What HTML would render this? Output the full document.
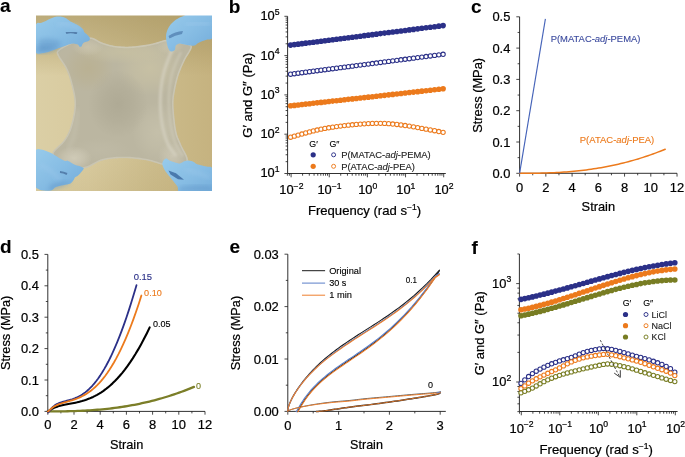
<!DOCTYPE html>
<html><head><meta charset="utf-8"><style>
html,body{margin:0;padding:0;background:#fff;width:685px;height:457px;overflow:hidden;}
svg{display:block;font-family:"Liberation Sans", sans-serif;will-change:transform;}
</style></head><body>
<svg width="685" height="457" viewBox="0 0 685 457">
<rect width="685" height="457" fill="#fff"/>
<defs>
<clipPath id="pc"><rect x="36" y="15.5" width="176" height="175.5"/></clipPath>
<filter id="blur1" x="-5%" y="-5%" width="110%" height="110%"><feGaussianBlur stdDeviation="0.55"/></filter>
<filter id="blur3" x="-20%" y="-20%" width="140%" height="140%"><feGaussianBlur stdDeviation="2.2"/></filter>
<filter id="blur2" x="-20%" y="-20%" width="140%" height="140%"><feGaussianBlur stdDeviation="1.3"/></filter>
<linearGradient id="bgG" x1="0" y1="0" x2="1" y2="0"><stop offset="0" stop-color="#dbcfa6"/><stop offset="0.3" stop-color="#d8ca9e"/><stop offset="0.65" stop-color="#ccbc8c"/><stop offset="1" stop-color="#c5b27f"/></linearGradient>
<linearGradient id="bgV" x1="0" y1="0" x2="0" y2="1"><stop offset="0" stop-color="#a08c55" stop-opacity="0.55"/><stop offset="0.2" stop-color="#a08c55" stop-opacity="0.3"/><stop offset="0.35" stop-color="#a89358" stop-opacity="0.0"/><stop offset="0.8" stop-color="#a89358" stop-opacity="0"/><stop offset="1" stop-color="#a89358" stop-opacity="0.12"/></linearGradient>
<radialGradient id="filmG" cx="0.5" cy="0.52" r="0.62"><stop offset="0" stop-color="#aca792"/><stop offset="0.55" stop-color="#b2ad97"/><stop offset="0.85" stop-color="#bdb8a2"/><stop offset="1" stop-color="#cbc7b4"/></radialGradient>
<linearGradient id="gloveG" x1="0" y1="0" x2="1" y2="1"><stop offset="0" stop-color="#98cbeb"/><stop offset="0.5" stop-color="#87bde4"/><stop offset="1" stop-color="#72abd9"/></linearGradient>
</defs>
<g clip-path="url(#pc)"><g filter="url(#blur1)">
<rect x="33" y="12.5" width="182" height="181.5" fill="url(#bgG)"/>
<rect x="33" y="12.5" width="182" height="181.5" fill="url(#bgV)"/>
<clipPath id="fc"><path d="M58,50 L59.5,48.75 L61.52,47.36 L63.92,45.93 L66.57,44.5 L69.31,43.17 L72,42 L74.77,40.9 L77.76,39.8 L80.85,38.78 L83.91,37.95 L86.84,37.39 L89.5,37.2 L91.89,37.5 L94.1,38.24 L96.16,39.26 L98.13,40.39 L100.03,41.46 L101.9,42.3 L103.7,42.94 L105.37,43.52 L106.99,44.04 L108.59,44.5 L110.24,44.92 L112,45.3 L113.88,45.63 L115.83,45.92 L117.83,46.16 L119.85,46.36 L121.85,46.5 L123.8,46.6 L125.71,46.64 L127.6,46.63 L129.47,46.57 L131.33,46.47 L133.17,46.34 L135,46.2 L136.82,46.03 L138.62,45.84 L140.41,45.61 L142.18,45.36 L143.95,45.09 L145.7,44.8 L147.44,44.49 L149.17,44.15 L150.89,43.79 L152.6,43.41 L154.3,43.01 L156,42.6 L157.65,42.11 L159.24,41.53 L160.82,40.93 L162.46,40.39 L164.2,39.98 L166.1,39.8 L168.22,39.86 L170.52,40.1 L172.93,40.47 L175.37,40.95 L177.75,41.47 L180,42 L182.33,42.44 L184.84,42.82 L187.31,43.24 L189.48,43.84 L191.12,44.72 L192,46 L191.92,47.79 L191.03,50.02 L189.62,52.54 L187.96,55.19 L186.32,57.83 L185,60.3 L183.93,62.61 L182.88,64.87 L181.86,67.11 L180.88,69.38 L179.95,71.7 L179.1,74.1 L178.31,76.61 L177.57,79.21 L176.88,81.86 L176.26,84.53 L175.69,87.19 L175.2,89.8 L174.75,92.24 L174.34,94.52 L173.99,96.79 L173.74,99.19 L173.6,101.88 L173.6,105 L173.76,108.79 L174.07,113.17 L174.49,117.84 L175.01,122.49 L175.58,126.81 L176.2,130.5 L176.86,133.46 L177.59,135.9 L178.38,138.01 L179.23,139.99 L180.14,142.03 L181.1,144.3 L182.31,146.91 L183.8,149.71 L185.36,152.58 L186.73,155.34 L187.69,157.86 L188,160 L187.63,161.77 L186.77,163.31 L185.49,164.61 L183.89,165.66 L182.03,166.45 L180,167 L177.64,167.21 L174.85,167.07 L171.81,166.67 L168.7,166.13 L165.71,165.54 L163,165 L160.59,164.45 L158.33,163.8 L156.19,163.1 L154.11,162.4 L152.06,161.75 L150,161.2 L147.94,160.75 L145.93,160.36 L143.94,160.02 L141.96,159.72 L139.99,159.45 L138,159.2 L135.99,158.97 L133.97,158.77 L131.95,158.61 L129.94,158.47 L127.95,158.37 L126,158.3 L124.12,158.26 L122.3,158.23 L120.51,158.24 L118.7,158.3 L116.81,158.41 L114.8,158.6 L112.69,158.82 L110.51,159.06 L108.26,159.35 L105.93,159.74 L103.52,160.28 L101,161 L98.36,162.09 L95.61,163.57 L92.76,165.18 L89.86,166.7 L86.93,167.89 L84,168.5 L81.01,168.51 L77.93,168.09 L74.81,167.34 L71.74,166.35 L68.78,165.21 L66,164 L63.14,162.69 L60.09,161.21 L57.15,159.57 L54.62,157.8 L52.81,155.94 L52,154 L52.51,151.94 L54.14,149.74 L56.49,147.44 L59.13,145.08 L61.64,142.72 L63.6,140.4 L65.06,138.21 L66.36,136.14 L67.52,134.06 L68.59,131.86 L69.57,129.41 L70.5,126.6 L71.43,123.34 L72.34,119.7 L73.18,115.81 L73.87,111.81 L74.33,107.83 L74.5,104 L74.31,100.2 L73.8,96.32 L73.06,92.45 L72.2,88.7 L71.32,85.19 L70.5,82 L69.76,79.21 L69.01,76.73 L68.24,74.49 L67.41,72.38 L66.51,70.31 L65.5,68.2 L64.27,66 L62.81,63.79 L61.27,61.61 L59.8,59.55 L58.56,57.66 L57.7,56 L57.12,54.66 L56.69,53.61 L56.49,52.74 L56.59,51.92 L57.06,51.04 Z"/></clipPath>
<g clip-path="url(#fc)">
<path d="M58,50 L59.5,48.75 L61.52,47.36 L63.92,45.93 L66.57,44.5 L69.31,43.17 L72,42 L74.77,40.9 L77.76,39.8 L80.85,38.78 L83.91,37.95 L86.84,37.39 L89.5,37.2 L91.89,37.5 L94.1,38.24 L96.16,39.26 L98.13,40.39 L100.03,41.46 L101.9,42.3 L103.7,42.94 L105.37,43.52 L106.99,44.04 L108.59,44.5 L110.24,44.92 L112,45.3 L113.88,45.63 L115.83,45.92 L117.83,46.16 L119.85,46.36 L121.85,46.5 L123.8,46.6 L125.71,46.64 L127.6,46.63 L129.47,46.57 L131.33,46.47 L133.17,46.34 L135,46.2 L136.82,46.03 L138.62,45.84 L140.41,45.61 L142.18,45.36 L143.95,45.09 L145.7,44.8 L147.44,44.49 L149.17,44.15 L150.89,43.79 L152.6,43.41 L154.3,43.01 L156,42.6 L157.65,42.11 L159.24,41.53 L160.82,40.93 L162.46,40.39 L164.2,39.98 L166.1,39.8 L168.22,39.86 L170.52,40.1 L172.93,40.47 L175.37,40.95 L177.75,41.47 L180,42 L182.33,42.44 L184.84,42.82 L187.31,43.24 L189.48,43.84 L191.12,44.72 L192,46 L191.92,47.79 L191.03,50.02 L189.62,52.54 L187.96,55.19 L186.32,57.83 L185,60.3 L183.93,62.61 L182.88,64.87 L181.86,67.11 L180.88,69.38 L179.95,71.7 L179.1,74.1 L178.31,76.61 L177.57,79.21 L176.88,81.86 L176.26,84.53 L175.69,87.19 L175.2,89.8 L174.75,92.24 L174.34,94.52 L173.99,96.79 L173.74,99.19 L173.6,101.88 L173.6,105 L173.76,108.79 L174.07,113.17 L174.49,117.84 L175.01,122.49 L175.58,126.81 L176.2,130.5 L176.86,133.46 L177.59,135.9 L178.38,138.01 L179.23,139.99 L180.14,142.03 L181.1,144.3 L182.31,146.91 L183.8,149.71 L185.36,152.58 L186.73,155.34 L187.69,157.86 L188,160 L187.63,161.77 L186.77,163.31 L185.49,164.61 L183.89,165.66 L182.03,166.45 L180,167 L177.64,167.21 L174.85,167.07 L171.81,166.67 L168.7,166.13 L165.71,165.54 L163,165 L160.59,164.45 L158.33,163.8 L156.19,163.1 L154.11,162.4 L152.06,161.75 L150,161.2 L147.94,160.75 L145.93,160.36 L143.94,160.02 L141.96,159.72 L139.99,159.45 L138,159.2 L135.99,158.97 L133.97,158.77 L131.95,158.61 L129.94,158.47 L127.95,158.37 L126,158.3 L124.12,158.26 L122.3,158.23 L120.51,158.24 L118.7,158.3 L116.81,158.41 L114.8,158.6 L112.69,158.82 L110.51,159.06 L108.26,159.35 L105.93,159.74 L103.52,160.28 L101,161 L98.36,162.09 L95.61,163.57 L92.76,165.18 L89.86,166.7 L86.93,167.89 L84,168.5 L81.01,168.51 L77.93,168.09 L74.81,167.34 L71.74,166.35 L68.78,165.21 L66,164 L63.14,162.69 L60.09,161.21 L57.15,159.57 L54.62,157.8 L52.81,155.94 L52,154 L52.51,151.94 L54.14,149.74 L56.49,147.44 L59.13,145.08 L61.64,142.72 L63.6,140.4 L65.06,138.21 L66.36,136.14 L67.52,134.06 L68.59,131.86 L69.57,129.41 L70.5,126.6 L71.43,123.34 L72.34,119.7 L73.18,115.81 L73.87,111.81 L74.33,107.83 L74.5,104 L74.31,100.2 L73.8,96.32 L73.06,92.45 L72.2,88.7 L71.32,85.19 L70.5,82 L69.76,79.21 L69.01,76.73 L68.24,74.49 L67.41,72.38 L66.51,70.31 L65.5,68.2 L64.27,66 L62.81,63.79 L61.27,61.61 L59.8,59.55 L58.56,57.66 L57.7,56 L57.12,54.66 L56.69,53.61 L56.49,52.74 L56.59,51.92 L57.06,51.04 Z" fill="#bbb6a1"/>
<radialGradient id="fr0"><stop offset="0" stop-color="#c8c1a4" stop-opacity="0.9"/><stop offset="0.5" stop-color="#c8c1a4" stop-opacity="0.54"/><stop offset="1" stop-color="#c8c1a4" stop-opacity="0"/></radialGradient>
<ellipse cx="150" cy="68" rx="34" ry="28" fill="url(#fr0)"/>
<radialGradient id="fr1"><stop offset="0" stop-color="#b9ae8a" stop-opacity="0.6"/><stop offset="0.5" stop-color="#b9ae8a" stop-opacity="0.36"/><stop offset="1" stop-color="#b9ae8a" stop-opacity="0"/></radialGradient>
<ellipse cx="88" cy="68" rx="26" ry="24" fill="url(#fr1)"/>
<radialGradient id="fr2"><stop offset="0" stop-color="#c6c1ab" stop-opacity="0.85"/><stop offset="0.5" stop-color="#c6c1ab" stop-opacity="0.51"/><stop offset="1" stop-color="#c6c1ab" stop-opacity="0"/></radialGradient>
<ellipse cx="158" cy="132" rx="26" ry="30" fill="url(#fr2)"/>
<radialGradient id="fr3"><stop offset="0" stop-color="#ada893" stop-opacity="0.85"/><stop offset="0.5" stop-color="#ada893" stop-opacity="0.51"/><stop offset="1" stop-color="#ada893" stop-opacity="0"/></radialGradient>
<ellipse cx="118" cy="104" rx="30" ry="34" fill="url(#fr3)"/>
<radialGradient id="fr4"><stop offset="0" stop-color="#c9c2a2" stop-opacity="0.7"/><stop offset="0.5" stop-color="#c9c2a2" stop-opacity="0.42"/><stop offset="1" stop-color="#c9c2a2" stop-opacity="0"/></radialGradient>
<ellipse cx="124" cy="52" rx="46" ry="12" fill="url(#fr4)"/>
<radialGradient id="fr5"><stop offset="0" stop-color="#c2bda9" stop-opacity="0.5"/><stop offset="0.5" stop-color="#c2bda9" stop-opacity="0.3"/><stop offset="1" stop-color="#c2bda9" stop-opacity="0"/></radialGradient>
<ellipse cx="100" cy="150" rx="30" ry="12" fill="url(#fr5)"/>
<radialGradient id="fr6"><stop offset="0" stop-color="#d4cfbc" stop-opacity="0.8"/><stop offset="0.5" stop-color="#d4cfbc" stop-opacity="0.48"/><stop offset="1" stop-color="#d4cfbc" stop-opacity="0"/></radialGradient>
<ellipse cx="74" cy="158" rx="18" ry="12" fill="url(#fr6)"/>
<radialGradient id="fr7"><stop offset="0" stop-color="#d0cbb8" stop-opacity="0.7"/><stop offset="0.5" stop-color="#d0cbb8" stop-opacity="0.42"/><stop offset="1" stop-color="#d0cbb8" stop-opacity="0"/></radialGradient>
<ellipse cx="172" cy="156" rx="14" ry="14" fill="url(#fr7)"/>
<radialGradient id="fr8"><stop offset="0" stop-color="#cdc7b0" stop-opacity="0.7"/><stop offset="0.5" stop-color="#cdc7b0" stop-opacity="0.42"/><stop offset="1" stop-color="#cdc7b0" stop-opacity="0"/></radialGradient>
<ellipse cx="88" cy="47" rx="16" ry="9" fill="url(#fr8)"/>
<radialGradient id="fr9"><stop offset="0" stop-color="#cdc7ae" stop-opacity="0.7"/><stop offset="0.5" stop-color="#cdc7ae" stop-opacity="0.42"/><stop offset="1" stop-color="#cdc7ae" stop-opacity="0"/></radialGradient>
<ellipse cx="170" cy="46" rx="14" ry="9" fill="url(#fr9)"/>
</g>
<g clip-path="url(#fc)"><path d="M58,50 L59.5,48.75 L61.52,47.36 L63.92,45.93 L66.57,44.5 L69.31,43.17 L72,42 L74.77,40.9 L77.76,39.8 L80.85,38.78 L83.91,37.95 L86.84,37.39 L89.5,37.2 L91.89,37.5 L94.1,38.24 L96.16,39.26 L98.13,40.39 L100.03,41.46 L101.9,42.3 L103.7,42.94 L105.37,43.52 L106.99,44.04 L108.59,44.5 L110.24,44.92 L112,45.3 L113.88,45.63 L115.83,45.92 L117.83,46.16 L119.85,46.36 L121.85,46.5 L123.8,46.6 L125.71,46.64 L127.6,46.63 L129.47,46.57 L131.33,46.47 L133.17,46.34 L135,46.2 L136.82,46.03 L138.62,45.84 L140.41,45.61 L142.18,45.36 L143.95,45.09 L145.7,44.8 L147.44,44.49 L149.17,44.15 L150.89,43.79 L152.6,43.41 L154.3,43.01 L156,42.6 L157.65,42.11 L159.24,41.53 L160.82,40.93 L162.46,40.39 L164.2,39.98 L166.1,39.8 L168.22,39.86 L170.52,40.1 L172.93,40.47 L175.37,40.95 L177.75,41.47 L180,42 L182.33,42.44 L184.84,42.82 L187.31,43.24 L189.48,43.84 L191.12,44.72 L192,46 L191.92,47.79 L191.03,50.02 L189.62,52.54 L187.96,55.19 L186.32,57.83 L185,60.3 L183.93,62.61 L182.88,64.87 L181.86,67.11 L180.88,69.38 L179.95,71.7 L179.1,74.1 L178.31,76.61 L177.57,79.21 L176.88,81.86 L176.26,84.53 L175.69,87.19 L175.2,89.8 L174.75,92.24 L174.34,94.52 L173.99,96.79 L173.74,99.19 L173.6,101.88 L173.6,105 L173.76,108.79 L174.07,113.17 L174.49,117.84 L175.01,122.49 L175.58,126.81 L176.2,130.5 L176.86,133.46 L177.59,135.9 L178.38,138.01 L179.23,139.99 L180.14,142.03 L181.1,144.3 L182.31,146.91 L183.8,149.71 L185.36,152.58 L186.73,155.34 L187.69,157.86 L188,160 L187.63,161.77 L186.77,163.31 L185.49,164.61 L183.89,165.66 L182.03,166.45 L180,167 L177.64,167.21 L174.85,167.07 L171.81,166.67 L168.7,166.13 L165.71,165.54 L163,165 L160.59,164.45 L158.33,163.8 L156.19,163.1 L154.11,162.4 L152.06,161.75 L150,161.2 L147.94,160.75 L145.93,160.36 L143.94,160.02 L141.96,159.72 L139.99,159.45 L138,159.2 L135.99,158.97 L133.97,158.77 L131.95,158.61 L129.94,158.47 L127.95,158.37 L126,158.3 L124.12,158.26 L122.3,158.23 L120.51,158.24 L118.7,158.3 L116.81,158.41 L114.8,158.6 L112.69,158.82 L110.51,159.06 L108.26,159.35 L105.93,159.74 L103.52,160.28 L101,161 L98.36,162.09 L95.61,163.57 L92.76,165.18 L89.86,166.7 L86.93,167.89 L84,168.5 L81.01,168.51 L77.93,168.09 L74.81,167.34 L71.74,166.35 L68.78,165.21 L66,164 L63.14,162.69 L60.09,161.21 L57.15,159.57 L54.62,157.8 L52.81,155.94 L52,154 L52.51,151.94 L54.14,149.74 L56.49,147.44 L59.13,145.08 L61.64,142.72 L63.6,140.4 L65.06,138.21 L66.36,136.14 L67.52,134.06 L68.59,131.86 L69.57,129.41 L70.5,126.6 L71.43,123.34 L72.34,119.7 L73.18,115.81 L73.87,111.81 L74.33,107.83 L74.5,104 L74.31,100.2 L73.8,96.32 L73.06,92.45 L72.2,88.7 L71.32,85.19 L70.5,82 L69.76,79.21 L69.01,76.73 L68.24,74.49 L67.41,72.38 L66.51,70.31 L65.5,68.2 L64.27,66 L62.81,63.79 L61.27,61.61 L59.8,59.55 L58.56,57.66 L57.7,56 L57.12,54.66 L56.69,53.61 L56.49,52.74 L56.59,51.92 L57.06,51.04 Z" fill="none" stroke="#d6d2c1" stroke-width="3.2" stroke-opacity="0.55"/></g>
<path d="M172,50 L171.08,52.38 L169.76,55.67 L168.22,59.56 L166.63,63.78 L165.17,68.02 L164,72 L163.1,75.75 L162.33,79.52 L161.69,83.31 L161.17,87.15 L160.77,91.04 L160.5,95 L160.35,99.09 L160.33,103.3 L160.44,107.56 L160.67,111.81 L161.02,115.98 L161.5,120 L162.12,123.93 L162.87,127.85 L163.75,131.69 L164.74,135.37 L165.83,138.83 L167,142 L168.4,144.96 L170.07,147.78 L171.84,150.38 L173.54,152.67 L174.98,154.57 L176,156" fill="none" stroke="#d6d2c2" stroke-opacity="0.7" stroke-width="3.2" filter="url(#blur2)"/>
<path d="M181,52 L180.02,54.14 L178.61,57.07 L176.97,60.56 L175.28,64.37 L173.73,68.26 L172.5,72 L171.58,75.64 L170.8,79.37 L170.16,83.19 L169.65,87.07 L169.27,91.02 L169,95 L168.86,99.09 L168.85,103.3 L168.97,107.56 L169.2,111.81 L169.55,115.98 L170,120 L170.57,123.93 L171.26,127.85 L172.06,131.69 L172.96,135.37 L173.95,138.83 L175,142 L176.25,144.96 L177.74,147.78 L179.31,150.38 L180.81,152.67 L182.09,154.57 L183,156" fill="none" stroke="#d3cfbe" stroke-opacity="0.5" stroke-width="2.4" filter="url(#blur2)"/>
<path d="M68,150 L68.68,148.48 L69.63,146.48 L70.75,144.06 L71.93,141.3 L73.05,138.25 L74,135 L74.83,131.12 L75.63,126.48 L76.38,121.56 L77.04,116.85 L77.59,112.84 L78,110" fill="none" stroke="#d0ccba" stroke-opacity="0.5" stroke-width="2.4" filter="url(#blur3)"/>
<path d="M36,24.4 L37.09,23.05 L38.33,22.8 L39.62,22.98 L40.9,22.9 L42.15,22.45 L43.4,21.96 L44.65,21.45 L45.9,20.9 L47.13,20.29 L48.36,19.62 L49.58,18.97 L50.8,18.4 L52.02,17.91 L53.25,17.46 L54.48,17.09 L55.7,16.8 L56.92,16.59 L58.14,16.46 L59.37,16.42 L60.6,16.5 L61.85,16.7 L63.1,17.02 L64.35,17.45 L65.6,18 L66.83,18.74 L68.06,19.64 L69.28,20.57 L70.5,21.4 L71.72,22.08 L72.95,22.68 L74.18,23.27 L75.4,23.9 L76.67,24.59 L77.97,25.32 L79.21,26.06 L80.3,26.8 L81.23,27.56 L82.04,28.33 L82.74,29.09 L83.3,29.8 L83.65,30.44 L83.81,31.03 L83.96,31.61 L84.3,32.2 L84.9,32.81 L85.66,33.41 L86.46,34.04 L87.2,34.7 L87.92,35.42 L88.66,36.18 L89.3,36.95 L89.7,37.7 L89.87,38.46 L89.85,39.24 L89.63,39.98 L89.2,40.6 L88.42,41.09 L87.34,41.47 L86.22,41.79 L85.3,42.1 L84.64,42.37 L84.12,42.6 L83.69,42.83 L83.3,43.1 L82.98,43.43 L82.74,43.79 L82.53,44.19 L82.3,44.6 L82.07,45.09 L81.86,45.64 L81.62,46.15 L81.3,46.5 L80.86,46.68 L80.32,46.74 L79.78,46.68 L79.3,46.5 L78.98,46.14 L78.76,45.61 L78.45,45.06 L77.9,44.6 L77,44.24 L75.87,43.92 L74.63,43.69 L73.4,43.6 L72.27,43.66 L71.16,43.86 L69.95,44.17 L68.5,44.6 L66.78,45.18 L64.86,45.89 L62.78,46.69 L60.6,47.5 L58.22,48.37 L55.64,49.31 L53.09,50.22 L50.8,51 L48.89,51.63 L47.23,52.17 L45.63,52.6 L43.9,52.9 L41.88,53.34 L39.71,53.83 L37.65,53.85 L36,52.9 L34.76,50.65 L33.82,47.42 L33.21,43.72 L33,40 L33.28,35.96 L34.01,31.49 L34.98,27.37 Z" fill="url(#gloveG)"/>
<path d="M183,16.2 L180.88,17.07 L179.14,17.85 L177.61,18.66 L176.1,19.6 L174.58,20.72 L173.13,21.94 L171.79,23.25 L170.6,24.6 L169.55,26.01 L168.63,27.49 L167.85,29 L167.2,30.5 L166.7,31.97 L166.33,33.43 L166.1,34.92 L166,36.5 L166.06,38.25 L166.28,40.12 L166.58,41.95 L166.9,43.6 L167.21,45.02 L167.56,46.31 L167.95,47.46 L168.4,48.5 L168.9,49.49 L169.44,50.4 L170.07,51.11 L170.8,51.5 L171.76,51.51 L172.89,51.22 L173.97,50.69 L174.8,50 L175.19,49.03 L175.31,47.77 L175.42,46.51 L175.8,45.5 L176.55,44.77 L177.51,44.21 L178.59,43.81 L179.7,43.6 L180.85,43.65 L182.08,43.92 L183.34,44.29 L184.6,44.6 L185.85,44.85 L187.1,45.11 L188.35,45.34 L189.6,45.5 L190.88,45.61 L192.18,45.67 L193.42,45.65 L194.5,45.5 L195.34,45.16 L196.01,44.67 L196.64,44.13 L197.4,43.6 L198.28,43.11 L199.21,42.61 L200.24,42.1 L201.4,41.6 L202.77,41.08 L204.31,40.54 L205.86,40.03 L207.3,39.6 L208.58,39.46 L209.77,39.51 L210.9,39.36 L212,38.6 L213.19,37.2 L214.42,35.36 L215.44,32.99 L216,30 L216.32,25.74 L216.44,20.46 L215.84,15.45 L214,12 L210.28,10.64 L205.12,10.61 L199.66,11.28 L195,12 L191.39,12.77 L188.24,13.89 L185.48,15.11 Z" fill="url(#gloveG)"/>
<path d="M36,150 L37.11,149.16 L38.37,149.03 L39.7,149.26 L41,149.5 L42.27,149.72 L43.55,150.09 L44.83,150.54 L46.1,151 L47.36,151.46 L48.61,151.96 L49.85,152.5 L51.1,153.1 L52.35,153.79 L53.59,154.54 L54.84,155.33 L56.1,156.1 L57.39,156.87 L58.71,157.66 L60,158.42 L61.2,159.1 L62.32,159.73 L63.39,160.32 L64.37,160.8 L65.2,161.1 L65.82,161.1 L66.26,160.88 L66.68,160.64 L67.2,160.6 L67.85,160.81 L68.57,161.16 L69.35,161.61 L70.2,162.1 L71.13,162.68 L72.12,163.35 L73.19,164.02 L74.3,164.6 L75.5,165.04 L76.79,165.39 L78.08,165.72 L79.3,166.1 L80.56,166.52 L81.85,166.96 L82.94,167.44 L83.6,168 L83.72,168.63 L83.44,169.32 L82.89,170.1 L82.2,171 L81.28,172.12 L80.09,173.43 L78.86,174.69 L77.8,175.7 L76.93,176.34 L76.14,176.76 L75.46,177.09 L74.9,177.5 L74.55,177.99 L74.38,178.48 L74.19,179.04 L73.8,179.7 L73.22,180.56 L72.54,181.57 L71.66,182.57 L70.5,183.4 L68.96,183.98 L67.1,184.42 L65.12,184.79 L63.2,185.2 L61.32,185.61 L59.41,185.99 L57.57,186.42 L55.9,187 L54.57,187.87 L53.49,188.94 L52.33,189.94 L50.8,190.6 L48.63,190.83 L46.05,190.78 L43.47,190.54 L41.3,190.2 L39.67,189.73 L38.36,189.09 L37.24,188.39 L36.2,187.7 L35.19,187.56 L34.28,187.76 L33.53,187.25 L33,185 L32.7,179.97 L32.61,172.96 L32.71,165.72 L33,160 L33.49,156.22 L34.19,153.47 L35.04,151.48 Z" fill="url(#gloveG)"/>
<path d="M162.6,162.3 L162.89,161.53 L163.31,160.76 L163.8,160.07 L164.3,159.5 L164.81,159.04 L165.37,158.67 L165.94,158.44 L166.5,158.4 L166.97,158.62 L167.39,159.04 L167.91,159.57 L168.7,160.1 L169.86,160.64 L171.29,161.24 L172.82,161.82 L174.3,162.3 L175.73,162.73 L177.18,163.12 L178.58,163.38 L179.9,163.4 L181.08,163.04 L182.17,162.41 L183.22,161.71 L184.3,161.2 L185.42,160.9 L186.54,160.69 L187.67,160.59 L188.8,160.6 L189.95,160.73 L191.13,160.97 L192.26,161.3 L193.3,161.7 L194.16,162.21 L194.88,162.82 L195.64,163.45 L196.6,164 L197.84,164.46 L199.26,164.87 L200.75,165.24 L202.2,165.6 L203.63,165.93 L205.09,166.23 L206.5,166.52 L207.8,166.8 L208.95,166.82 L210,166.67 L211,166.85 L212,167.9 L213.15,170.08 L214.39,173.08 L215.43,176.51 L216,180 L216.62,183.92 L217.25,188.32 L216.75,192.31 L214,195 L207.46,196.02 L198.15,195.89 L188.76,195.06 L182,194 L178.93,192.57 L178.01,190.61 L177.98,188.55 L177.6,186.8 L176.73,185.53 L175.96,184.5 L175.18,183.52 L174.3,182.4 L173.26,181.08 L172.12,179.68 L170.95,178.23 L169.8,176.8 L168.66,175.4 L167.49,174 L166.39,172.6 L165.4,171.2 L164.52,169.75 L163.73,168.26 L163.07,166.84 L162.6,165.6 L162.36,164.6 L162.32,163.77 L162.41,163.04 Z" fill="url(#gloveG)"/>
<path d="M38,40 Q50,36 62,42 Q55,50 40,52 Z" fill="#5f95c8" opacity="0.45" filter="url(#blur3)"/>
<path d="M58,24 Q70,22 80,30" fill="none" stroke="#a6cdee" stroke-width="3" opacity="0.5" filter="url(#blur3)"/>
<path d="M66,33 Q71,31 77,33.5" fill="none" stroke="#2e4f80" stroke-width="2.2" opacity="0.55" filter="url(#blur1)"/>
<path d="M168.5,36 Q175,31.5 183,31 L182,34 Q175,35 169.5,38.5 Z" fill="#3c679c" opacity="0.55" filter="url(#blur1)"/>
<path d="M186,25 Q198,22 210,24" fill="none" stroke="#a6cdee" stroke-width="3" opacity="0.45" filter="url(#blur3)"/>
<path d="M60,172 Q63.5,172.2 67,174" fill="none" stroke="#2e4f80" stroke-width="2" opacity="0.55" filter="url(#blur1)"/>
<path d="M40,165 Q52,170 60,180" fill="none" stroke="#a6cdee" stroke-width="3" opacity="0.4" filter="url(#blur3)"/>
<path d="M168.5,170.5 L176,173.2 L184,179.8 L178,179.2 L170.5,174.5 Z" fill="#35629a" opacity="0.75" filter="url(#blur1)"/>
<path d="M185,170 Q198,172 210,178" fill="none" stroke="#a6cdee" stroke-width="3" opacity="0.4" filter="url(#blur3)"/>
<path d="M36,46 Q50,44 62,47 L50,52 L36,53 Z" fill="#5a8fc3" opacity="0.4" filter="url(#blur3)"/>
<path d="M50,185 Q62,180 72,182 L62,187 L48,191 Z" fill="#5a8fc3" opacity="0.4" filter="url(#blur3)"/>
<path d="M178,188 Q190,184 212,186 L212,191 L180,191 Z" fill="#5a8fc3" opacity="0.4" filter="url(#blur3)"/>
</g></g>
<text x="0" y="12.3" font-size="19" text-anchor="start" fill="#000" font-weight="bold"  stroke="#000" stroke-width="0.1">a</text>
<text x="228.7" y="12.6" font-size="19" text-anchor="start" fill="#000" font-weight="bold"  stroke="#000" stroke-width="0.1">b</text>
<text x="471" y="12.6" font-size="19" text-anchor="start" fill="#000" font-weight="bold"  stroke="#000" stroke-width="0.1">c</text>
<text x="0" y="253.3" font-size="19" text-anchor="start" fill="#000" font-weight="bold"  stroke="#000" stroke-width="0.1">d</text>
<text x="229.5" y="253.3" font-size="19" text-anchor="start" fill="#000" font-weight="bold"  stroke="#000" stroke-width="0.1">e</text>
<text x="471.5" y="253.8" font-size="19" text-anchor="start" fill="#000" font-weight="bold"  stroke="#000" stroke-width="0.1">f</text>
<line x1="287.6" y1="173.5" x2="445.8" y2="173.5" stroke="#1a1a1a" stroke-width="0.9"/>
<line x1="287.4" y1="173.5" x2="287.4" y2="175.7" stroke="#1a1a1a" stroke-width="0.8"/>
<line x1="289.35" y1="173.5" x2="289.35" y2="175.7" stroke="#1a1a1a" stroke-width="0.8"/>
<line x1="291.1" y1="173.5" x2="291.1" y2="177.3" stroke="#1a1a1a" stroke-width="0.8"/>
<line x1="302.58" y1="173.5" x2="302.58" y2="175.7" stroke="#1a1a1a" stroke-width="0.8"/>
<line x1="309.3" y1="173.5" x2="309.3" y2="175.7" stroke="#1a1a1a" stroke-width="0.8"/>
<line x1="314.07" y1="173.5" x2="314.07" y2="175.7" stroke="#1a1a1a" stroke-width="0.8"/>
<line x1="317.77" y1="173.5" x2="317.77" y2="175.7" stroke="#1a1a1a" stroke-width="0.8"/>
<line x1="320.79" y1="173.5" x2="320.79" y2="175.7" stroke="#1a1a1a" stroke-width="0.8"/>
<line x1="323.34" y1="173.5" x2="323.34" y2="175.7" stroke="#1a1a1a" stroke-width="0.8"/>
<line x1="325.55" y1="173.5" x2="325.55" y2="175.7" stroke="#1a1a1a" stroke-width="0.8"/>
<line x1="327.5" y1="173.5" x2="327.5" y2="175.7" stroke="#1a1a1a" stroke-width="0.8"/>
<line x1="329.25" y1="173.5" x2="329.25" y2="177.3" stroke="#1a1a1a" stroke-width="0.8"/>
<line x1="340.73" y1="173.5" x2="340.73" y2="175.7" stroke="#1a1a1a" stroke-width="0.8"/>
<line x1="347.45" y1="173.5" x2="347.45" y2="175.7" stroke="#1a1a1a" stroke-width="0.8"/>
<line x1="352.22" y1="173.5" x2="352.22" y2="175.7" stroke="#1a1a1a" stroke-width="0.8"/>
<line x1="355.92" y1="173.5" x2="355.92" y2="175.7" stroke="#1a1a1a" stroke-width="0.8"/>
<line x1="358.94" y1="173.5" x2="358.94" y2="175.7" stroke="#1a1a1a" stroke-width="0.8"/>
<line x1="361.49" y1="173.5" x2="361.49" y2="175.7" stroke="#1a1a1a" stroke-width="0.8"/>
<line x1="363.7" y1="173.5" x2="363.7" y2="175.7" stroke="#1a1a1a" stroke-width="0.8"/>
<line x1="365.65" y1="173.5" x2="365.65" y2="175.7" stroke="#1a1a1a" stroke-width="0.8"/>
<line x1="367.4" y1="173.5" x2="367.4" y2="177.3" stroke="#1a1a1a" stroke-width="0.8"/>
<line x1="378.88" y1="173.5" x2="378.88" y2="175.7" stroke="#1a1a1a" stroke-width="0.8"/>
<line x1="385.6" y1="173.5" x2="385.6" y2="175.7" stroke="#1a1a1a" stroke-width="0.8"/>
<line x1="390.37" y1="173.5" x2="390.37" y2="175.7" stroke="#1a1a1a" stroke-width="0.8"/>
<line x1="394.07" y1="173.5" x2="394.07" y2="175.7" stroke="#1a1a1a" stroke-width="0.8"/>
<line x1="397.09" y1="173.5" x2="397.09" y2="175.7" stroke="#1a1a1a" stroke-width="0.8"/>
<line x1="399.64" y1="173.5" x2="399.64" y2="175.7" stroke="#1a1a1a" stroke-width="0.8"/>
<line x1="401.85" y1="173.5" x2="401.85" y2="175.7" stroke="#1a1a1a" stroke-width="0.8"/>
<line x1="403.8" y1="173.5" x2="403.8" y2="175.7" stroke="#1a1a1a" stroke-width="0.8"/>
<line x1="405.55" y1="173.5" x2="405.55" y2="177.3" stroke="#1a1a1a" stroke-width="0.8"/>
<line x1="417.03" y1="173.5" x2="417.03" y2="175.7" stroke="#1a1a1a" stroke-width="0.8"/>
<line x1="423.75" y1="173.5" x2="423.75" y2="175.7" stroke="#1a1a1a" stroke-width="0.8"/>
<line x1="428.52" y1="173.5" x2="428.52" y2="175.7" stroke="#1a1a1a" stroke-width="0.8"/>
<line x1="432.22" y1="173.5" x2="432.22" y2="175.7" stroke="#1a1a1a" stroke-width="0.8"/>
<line x1="435.24" y1="173.5" x2="435.24" y2="175.7" stroke="#1a1a1a" stroke-width="0.8"/>
<line x1="437.79" y1="173.5" x2="437.79" y2="175.7" stroke="#1a1a1a" stroke-width="0.8"/>
<line x1="440" y1="173.5" x2="440" y2="175.7" stroke="#1a1a1a" stroke-width="0.8"/>
<line x1="441.95" y1="173.5" x2="441.95" y2="175.7" stroke="#1a1a1a" stroke-width="0.8"/>
<line x1="443.7" y1="173.5" x2="443.7" y2="177.3" stroke="#1a1a1a" stroke-width="0.8"/>
<text transform="translate(279.31,193.9) scale(1.02,1)" font-size="12.6" fill="#000" stroke="#000" stroke-width="0.22">10<tspan dy="-5.4" font-size="8.5">−2</tspan></text>
<text transform="translate(317.46,193.9) scale(1.02,1)" font-size="12.6" fill="#000" stroke="#000" stroke-width="0.22">10<tspan dy="-5.4" font-size="8.5">−1</tspan></text>
<text transform="translate(358.14,193.9) scale(1.02,1)" font-size="12.6" fill="#000" stroke="#000" stroke-width="0.22">10<tspan dy="-5.4" font-size="8.5">0</tspan></text>
<text transform="translate(396.29,193.9) scale(1.02,1)" font-size="12.6" fill="#000" stroke="#000" stroke-width="0.22">10<tspan dy="-5.4" font-size="8.5">1</tspan></text>
<text transform="translate(434.44,193.9) scale(1.02,1)" font-size="12.6" fill="#000" stroke="#000" stroke-width="0.22">10<tspan dy="-5.4" font-size="8.5">2</tspan></text>
<line x1="287.6" y1="173.5" x2="287.6" y2="16.3" stroke="#1a1a1a" stroke-width="0.9"/>
<line x1="284.4" y1="173.5" x2="287.6" y2="173.5" stroke="#1a1a1a" stroke-width="0.8"/>
<line x1="285.6" y1="161.67" x2="287.6" y2="161.67" stroke="#1a1a1a" stroke-width="0.8"/>
<line x1="285.6" y1="154.75" x2="287.6" y2="154.75" stroke="#1a1a1a" stroke-width="0.8"/>
<line x1="285.6" y1="149.84" x2="287.6" y2="149.84" stroke="#1a1a1a" stroke-width="0.8"/>
<line x1="285.6" y1="146.03" x2="287.6" y2="146.03" stroke="#1a1a1a" stroke-width="0.8"/>
<line x1="285.6" y1="142.92" x2="287.6" y2="142.92" stroke="#1a1a1a" stroke-width="0.8"/>
<line x1="285.6" y1="140.29" x2="287.6" y2="140.29" stroke="#1a1a1a" stroke-width="0.8"/>
<line x1="285.6" y1="138.01" x2="287.6" y2="138.01" stroke="#1a1a1a" stroke-width="0.8"/>
<line x1="285.6" y1="136" x2="287.6" y2="136" stroke="#1a1a1a" stroke-width="0.8"/>
<line x1="284.4" y1="134.2" x2="287.6" y2="134.2" stroke="#1a1a1a" stroke-width="0.8"/>
<line x1="285.6" y1="122.37" x2="287.6" y2="122.37" stroke="#1a1a1a" stroke-width="0.8"/>
<line x1="285.6" y1="115.45" x2="287.6" y2="115.45" stroke="#1a1a1a" stroke-width="0.8"/>
<line x1="285.6" y1="110.54" x2="287.6" y2="110.54" stroke="#1a1a1a" stroke-width="0.8"/>
<line x1="285.6" y1="106.73" x2="287.6" y2="106.73" stroke="#1a1a1a" stroke-width="0.8"/>
<line x1="285.6" y1="103.62" x2="287.6" y2="103.62" stroke="#1a1a1a" stroke-width="0.8"/>
<line x1="285.6" y1="100.99" x2="287.6" y2="100.99" stroke="#1a1a1a" stroke-width="0.8"/>
<line x1="285.6" y1="98.71" x2="287.6" y2="98.71" stroke="#1a1a1a" stroke-width="0.8"/>
<line x1="285.6" y1="96.7" x2="287.6" y2="96.7" stroke="#1a1a1a" stroke-width="0.8"/>
<line x1="284.4" y1="94.9" x2="287.6" y2="94.9" stroke="#1a1a1a" stroke-width="0.8"/>
<line x1="285.6" y1="83.07" x2="287.6" y2="83.07" stroke="#1a1a1a" stroke-width="0.8"/>
<line x1="285.6" y1="76.15" x2="287.6" y2="76.15" stroke="#1a1a1a" stroke-width="0.8"/>
<line x1="285.6" y1="71.24" x2="287.6" y2="71.24" stroke="#1a1a1a" stroke-width="0.8"/>
<line x1="285.6" y1="67.43" x2="287.6" y2="67.43" stroke="#1a1a1a" stroke-width="0.8"/>
<line x1="285.6" y1="64.32" x2="287.6" y2="64.32" stroke="#1a1a1a" stroke-width="0.8"/>
<line x1="285.6" y1="61.69" x2="287.6" y2="61.69" stroke="#1a1a1a" stroke-width="0.8"/>
<line x1="285.6" y1="59.41" x2="287.6" y2="59.41" stroke="#1a1a1a" stroke-width="0.8"/>
<line x1="285.6" y1="57.4" x2="287.6" y2="57.4" stroke="#1a1a1a" stroke-width="0.8"/>
<line x1="284.4" y1="55.6" x2="287.6" y2="55.6" stroke="#1a1a1a" stroke-width="0.8"/>
<line x1="285.6" y1="43.77" x2="287.6" y2="43.77" stroke="#1a1a1a" stroke-width="0.8"/>
<line x1="285.6" y1="36.85" x2="287.6" y2="36.85" stroke="#1a1a1a" stroke-width="0.8"/>
<line x1="285.6" y1="31.94" x2="287.6" y2="31.94" stroke="#1a1a1a" stroke-width="0.8"/>
<line x1="285.6" y1="28.13" x2="287.6" y2="28.13" stroke="#1a1a1a" stroke-width="0.8"/>
<line x1="285.6" y1="25.02" x2="287.6" y2="25.02" stroke="#1a1a1a" stroke-width="0.8"/>
<line x1="285.6" y1="22.39" x2="287.6" y2="22.39" stroke="#1a1a1a" stroke-width="0.8"/>
<line x1="285.6" y1="20.11" x2="287.6" y2="20.11" stroke="#1a1a1a" stroke-width="0.8"/>
<line x1="285.6" y1="18.1" x2="287.6" y2="18.1" stroke="#1a1a1a" stroke-width="0.8"/>
<line x1="284.4" y1="16.3" x2="287.6" y2="16.3" stroke="#1a1a1a" stroke-width="0.8"/>
<text transform="translate(260.48,20.2) scale(1.02,1)" font-size="12.6" fill="#000" stroke="#000" stroke-width="0.22">10<tspan dy="-5.4" font-size="8.5">5</tspan></text>
<text transform="translate(260.48,59.5) scale(1.02,1)" font-size="12.6" fill="#000" stroke="#000" stroke-width="0.22">10<tspan dy="-5.4" font-size="8.5">4</tspan></text>
<text transform="translate(260.48,98.8) scale(1.02,1)" font-size="12.6" fill="#000" stroke="#000" stroke-width="0.22">10<tspan dy="-5.4" font-size="8.5">3</tspan></text>
<text transform="translate(260.48,138.1) scale(1.02,1)" font-size="12.6" fill="#000" stroke="#000" stroke-width="0.22">10<tspan dy="-5.4" font-size="8.5">2</tspan></text>
<text transform="translate(260.48,177.4) scale(1.02,1)" font-size="12.6" fill="#000" stroke="#000" stroke-width="0.22">10<tspan dy="-5.4" font-size="8.5">1</tspan></text>
<text transform="translate(252.3,137.8) rotate(-90)" x="0" y="0" font-size="12.8" textLength="84.9" lengthAdjust="spacingAndGlyphs" stroke="#000" stroke-width="0.22">G′ and G″ (Pa)</text>
<text transform="translate(307.9,215.4) scale(1.0501,1)" font-size="12.5" stroke="#000" stroke-width="0.22">Frequency (rad s<tspan dy="-5" font-size="8.2">−1</tspan><tspan dy="5">)</tspan></text>
<g fill="#2b3088"><circle cx="290.6" cy="45.1" r="2.8"/><circle cx="294.35" cy="44.62" r="2.8"/><circle cx="298.12" cy="44.14" r="2.8"/><circle cx="301.9" cy="43.65" r="2.8"/><circle cx="305.7" cy="43.17" r="2.8"/><circle cx="309.51" cy="42.68" r="2.8"/><circle cx="313.33" cy="42.19" r="2.8"/><circle cx="317.17" cy="41.7" r="2.8"/><circle cx="321.02" cy="41.21" r="2.8"/><circle cx="324.88" cy="40.72" r="2.8"/><circle cx="328.76" cy="40.22" r="2.8"/><circle cx="332.66" cy="39.72" r="2.8"/><circle cx="336.56" cy="39.22" r="2.8"/><circle cx="340.49" cy="38.72" r="2.8"/><circle cx="344.42" cy="38.22" r="2.8"/><circle cx="348.37" cy="37.71" r="2.8"/><circle cx="352.34" cy="37.21" r="2.8"/><circle cx="356.31" cy="36.7" r="2.8"/><circle cx="360.31" cy="36.19" r="2.8"/><circle cx="364.31" cy="35.67" r="2.8"/><circle cx="368.33" cy="35.16" r="2.8"/><circle cx="372.37" cy="34.64" r="2.8"/><circle cx="376.41" cy="34.13" r="2.8"/><circle cx="380.48" cy="33.61" r="2.8"/><circle cx="384.55" cy="33.09" r="2.8"/><circle cx="388.64" cy="32.56" r="2.8"/><circle cx="392.75" cy="32.04" r="2.8"/><circle cx="396.87" cy="31.51" r="2.8"/><circle cx="401" cy="30.98" r="2.8"/><circle cx="405.15" cy="30.45" r="2.8"/><circle cx="409.31" cy="29.92" r="2.8"/><circle cx="413.48" cy="29.39" r="2.8"/><circle cx="417.67" cy="28.85" r="2.8"/><circle cx="421.87" cy="28.31" r="2.8"/><circle cx="426.09" cy="27.77" r="2.8"/><circle cx="430.32" cy="27.23" r="2.8"/><circle cx="434.57" cy="26.69" r="2.8"/><circle cx="438.83" cy="26.15" r="2.8"/><circle cx="443.1" cy="25.6" r="2.8"/></g>
<g fill="#fff" stroke="#2b3088" stroke-width="1.05"><circle cx="290.6" cy="74.2" r="2.15"/><circle cx="294.35" cy="73.71" r="2.15"/><circle cx="298.12" cy="73.22" r="2.15"/><circle cx="301.9" cy="72.73" r="2.15"/><circle cx="305.7" cy="72.23" r="2.15"/><circle cx="309.51" cy="71.73" r="2.15"/><circle cx="313.33" cy="71.23" r="2.15"/><circle cx="317.17" cy="70.73" r="2.15"/><circle cx="321.02" cy="70.23" r="2.15"/><circle cx="324.88" cy="69.73" r="2.15"/><circle cx="328.76" cy="69.22" r="2.15"/><circle cx="332.66" cy="68.71" r="2.15"/><circle cx="336.56" cy="68.2" r="2.15"/><circle cx="340.49" cy="67.69" r="2.15"/><circle cx="344.42" cy="67.18" r="2.15"/><circle cx="348.37" cy="66.66" r="2.15"/><circle cx="352.34" cy="66.14" r="2.15"/><circle cx="356.31" cy="65.62" r="2.15"/><circle cx="360.31" cy="65.1" r="2.15"/><circle cx="364.31" cy="64.58" r="2.15"/><circle cx="368.33" cy="64.06" r="2.15"/><circle cx="372.37" cy="63.53" r="2.15"/><circle cx="376.41" cy="63" r="2.15"/><circle cx="380.48" cy="62.47" r="2.15"/><circle cx="384.55" cy="61.94" r="2.15"/><circle cx="388.64" cy="61.41" r="2.15"/><circle cx="392.75" cy="60.87" r="2.15"/><circle cx="396.87" cy="60.33" r="2.15"/><circle cx="401" cy="59.79" r="2.15"/><circle cx="405.15" cy="59.25" r="2.15"/><circle cx="409.31" cy="58.71" r="2.15"/><circle cx="413.48" cy="58.16" r="2.15"/><circle cx="417.67" cy="57.62" r="2.15"/><circle cx="421.87" cy="57.07" r="2.15"/><circle cx="426.09" cy="56.52" r="2.15"/><circle cx="430.32" cy="55.97" r="2.15"/><circle cx="434.57" cy="55.41" r="2.15"/><circle cx="438.83" cy="54.86" r="2.15"/><circle cx="443.1" cy="54.3" r="2.15"/></g>
<g fill="#ec7a1c"><circle cx="290.6" cy="105.8" r="2.8"/><circle cx="294.35" cy="105.38" r="2.8"/><circle cx="298.12" cy="104.96" r="2.8"/><circle cx="301.9" cy="104.54" r="2.8"/><circle cx="305.7" cy="104.12" r="2.8"/><circle cx="309.51" cy="103.69" r="2.8"/><circle cx="313.33" cy="103.27" r="2.8"/><circle cx="317.17" cy="102.84" r="2.8"/><circle cx="321.02" cy="102.41" r="2.8"/><circle cx="324.88" cy="101.98" r="2.8"/><circle cx="328.76" cy="101.55" r="2.8"/><circle cx="332.66" cy="101.11" r="2.8"/><circle cx="336.56" cy="100.68" r="2.8"/><circle cx="340.49" cy="100.24" r="2.8"/><circle cx="344.42" cy="99.8" r="2.8"/><circle cx="348.37" cy="99.36" r="2.8"/><circle cx="352.34" cy="98.92" r="2.8"/><circle cx="356.31" cy="98.47" r="2.8"/><circle cx="360.31" cy="98.03" r="2.8"/><circle cx="364.31" cy="97.58" r="2.8"/><circle cx="368.33" cy="97.13" r="2.8"/><circle cx="372.37" cy="96.69" r="2.8"/><circle cx="376.41" cy="96.23" r="2.8"/><circle cx="380.48" cy="95.78" r="2.8"/><circle cx="384.55" cy="95.33" r="2.8"/><circle cx="388.64" cy="94.87" r="2.8"/><circle cx="392.75" cy="94.41" r="2.8"/><circle cx="396.87" cy="93.95" r="2.8"/><circle cx="401" cy="93.49" r="2.8"/><circle cx="405.15" cy="93.03" r="2.8"/><circle cx="409.31" cy="92.57" r="2.8"/><circle cx="413.48" cy="92.1" r="2.8"/><circle cx="417.67" cy="91.63" r="2.8"/><circle cx="421.87" cy="91.17" r="2.8"/><circle cx="426.09" cy="90.7" r="2.8"/><circle cx="430.32" cy="90.22" r="2.8"/><circle cx="434.57" cy="89.75" r="2.8"/><circle cx="438.83" cy="89.28" r="2.8"/><circle cx="443.1" cy="88.8" r="2.8"/></g>
<g fill="#fff" stroke="#ec7a1c" stroke-width="1.05"><circle cx="290.6" cy="137.2" r="2.15"/><circle cx="294.35" cy="136.15" r="2.15"/><circle cx="298.12" cy="135.07" r="2.15"/><circle cx="301.9" cy="134" r="2.15"/><circle cx="305.7" cy="132.95" r="2.15"/><circle cx="309.51" cy="131.92" r="2.15"/><circle cx="313.33" cy="130.94" r="2.15"/><circle cx="317.17" cy="130.02" r="2.15"/><circle cx="321.02" cy="129.19" r="2.15"/><circle cx="324.88" cy="128.45" r="2.15"/><circle cx="328.76" cy="127.78" r="2.15"/><circle cx="332.66" cy="127.16" r="2.15"/><circle cx="336.56" cy="126.59" r="2.15"/><circle cx="340.49" cy="126.08" r="2.15"/><circle cx="344.42" cy="125.6" r="2.15"/><circle cx="348.37" cy="125.17" r="2.15"/><circle cx="352.34" cy="124.77" r="2.15"/><circle cx="356.31" cy="124.4" r="2.15"/><circle cx="360.31" cy="124.08" r="2.15"/><circle cx="364.31" cy="123.8" r="2.15"/><circle cx="368.33" cy="123.57" r="2.15"/><circle cx="372.37" cy="123.4" r="2.15"/><circle cx="376.41" cy="123.31" r="2.15"/><circle cx="380.48" cy="123.31" r="2.15"/><circle cx="384.55" cy="123.43" r="2.15"/><circle cx="388.64" cy="123.68" r="2.15"/><circle cx="392.75" cy="124.04" r="2.15"/><circle cx="396.87" cy="124.48" r="2.15"/><circle cx="401" cy="124.99" r="2.15"/><circle cx="405.15" cy="125.52" r="2.15"/><circle cx="409.31" cy="126.11" r="2.15"/><circle cx="413.48" cy="126.82" r="2.15"/><circle cx="417.67" cy="127.61" r="2.15"/><circle cx="421.87" cy="128.42" r="2.15"/><circle cx="426.09" cy="129.2" r="2.15"/><circle cx="430.32" cy="129.96" r="2.15"/><circle cx="434.57" cy="130.73" r="2.15"/><circle cx="438.83" cy="131.52" r="2.15"/><circle cx="443.1" cy="132.3" r="2.15"/></g>
<text x="309.3" y="147" font-size="8.8" text-anchor="start" fill="#000" font-weight="normal"  stroke="#000" stroke-width="0.12">G′</text>
<text x="329.5" y="147" font-size="8.8" text-anchor="start" fill="#000" font-weight="normal"  stroke="#000" stroke-width="0.12">G″</text>
<circle cx="313.2" cy="154.8" r="2.6" fill="#2b3088"/>
<circle cx="333.6" cy="154.8" r="2.0" fill="#fff" stroke="#2b3088" stroke-width="0.95"/>
<circle cx="313.2" cy="166.3" r="2.6" fill="#ec7a1c"/>
<circle cx="333.6" cy="166.3" r="2.0" fill="#fff" stroke="#ec7a1c" stroke-width="0.95"/>
<text x="341.2" y="158.2" font-size="8.8" fill="#222" textLength="89.5" lengthAdjust="spacingAndGlyphs" stroke="#222" stroke-width="0.12">P(MATAC-<tspan font-style="italic">adj</tspan>-PEMA)</text>
<text x="341.2" y="169.5" font-size="8.8" fill="#222" textLength="73.6" lengthAdjust="spacingAndGlyphs" stroke="#222" stroke-width="0.12">P(ATAC-<tspan font-style="italic">adj</tspan>-PEA)</text>
<line x1="519.6" y1="173.3" x2="677.04" y2="173.3" stroke="#1a1a1a" stroke-width="0.9"/>
<line x1="519.6" y1="173.3" x2="519.6" y2="16.8" stroke="#1a1a1a" stroke-width="0.9"/>
<line x1="519.6" y1="173.3" x2="519.6" y2="176.6" stroke="#1a1a1a" stroke-width="0.8"/>
<line x1="545.84" y1="173.3" x2="545.84" y2="176.6" stroke="#1a1a1a" stroke-width="0.8"/>
<line x1="572.08" y1="173.3" x2="572.08" y2="176.6" stroke="#1a1a1a" stroke-width="0.8"/>
<line x1="598.32" y1="173.3" x2="598.32" y2="176.6" stroke="#1a1a1a" stroke-width="0.8"/>
<line x1="624.56" y1="173.3" x2="624.56" y2="176.6" stroke="#1a1a1a" stroke-width="0.8"/>
<line x1="650.8" y1="173.3" x2="650.8" y2="176.6" stroke="#1a1a1a" stroke-width="0.8"/>
<line x1="677.04" y1="173.3" x2="677.04" y2="176.6" stroke="#1a1a1a" stroke-width="0.8"/>
<line x1="532.72" y1="173.3" x2="532.72" y2="175.3" stroke="#1a1a1a" stroke-width="0.8"/>
<line x1="558.96" y1="173.3" x2="558.96" y2="175.3" stroke="#1a1a1a" stroke-width="0.8"/>
<line x1="585.2" y1="173.3" x2="585.2" y2="175.3" stroke="#1a1a1a" stroke-width="0.8"/>
<line x1="611.44" y1="173.3" x2="611.44" y2="175.3" stroke="#1a1a1a" stroke-width="0.8"/>
<line x1="637.68" y1="173.3" x2="637.68" y2="175.3" stroke="#1a1a1a" stroke-width="0.8"/>
<line x1="663.92" y1="173.3" x2="663.92" y2="175.3" stroke="#1a1a1a" stroke-width="0.8"/>
<line x1="516.3" y1="173.3" x2="519.6" y2="173.3" stroke="#1a1a1a" stroke-width="0.8"/>
<line x1="516.3" y1="142" x2="519.6" y2="142" stroke="#1a1a1a" stroke-width="0.8"/>
<line x1="516.3" y1="110.7" x2="519.6" y2="110.7" stroke="#1a1a1a" stroke-width="0.8"/>
<line x1="516.3" y1="79.4" x2="519.6" y2="79.4" stroke="#1a1a1a" stroke-width="0.8"/>
<line x1="516.3" y1="48.1" x2="519.6" y2="48.1" stroke="#1a1a1a" stroke-width="0.8"/>
<line x1="516.3" y1="16.8" x2="519.6" y2="16.8" stroke="#1a1a1a" stroke-width="0.8"/>
<line x1="517.6" y1="157.65" x2="519.6" y2="157.65" stroke="#1a1a1a" stroke-width="0.8"/>
<line x1="517.6" y1="126.35" x2="519.6" y2="126.35" stroke="#1a1a1a" stroke-width="0.8"/>
<line x1="517.6" y1="95.05" x2="519.6" y2="95.05" stroke="#1a1a1a" stroke-width="0.8"/>
<line x1="517.6" y1="63.75" x2="519.6" y2="63.75" stroke="#1a1a1a" stroke-width="0.8"/>
<line x1="517.6" y1="32.45" x2="519.6" y2="32.45" stroke="#1a1a1a" stroke-width="0.8"/>
<text transform="translate(519.6,191.9) scale(1.01,1)" font-size="12.8" text-anchor="middle" fill="#000" font-weight="normal"  stroke="#000" stroke-width="0.22">0</text>
<text transform="translate(545.84,191.9) scale(1.01,1)" font-size="12.8" text-anchor="middle" fill="#000" font-weight="normal"  stroke="#000" stroke-width="0.22">2</text>
<text transform="translate(572.08,191.9) scale(1.01,1)" font-size="12.8" text-anchor="middle" fill="#000" font-weight="normal"  stroke="#000" stroke-width="0.22">4</text>
<text transform="translate(598.32,191.9) scale(1.01,1)" font-size="12.8" text-anchor="middle" fill="#000" font-weight="normal"  stroke="#000" stroke-width="0.22">6</text>
<text transform="translate(624.56,191.9) scale(1.01,1)" font-size="12.8" text-anchor="middle" fill="#000" font-weight="normal"  stroke="#000" stroke-width="0.22">8</text>
<text transform="translate(650.8,191.9) scale(1.01,1)" font-size="12.8" text-anchor="middle" fill="#000" font-weight="normal"  stroke="#000" stroke-width="0.22">10</text>
<text transform="translate(677.04,191.9) scale(1.01,1)" font-size="12.8" text-anchor="middle" fill="#000" font-weight="normal"  stroke="#000" stroke-width="0.22">12</text>
<text transform="translate(510.4,177.8) scale(1.01,1)" font-size="12.8" text-anchor="end" fill="#000" font-weight="normal"  stroke="#000" stroke-width="0.22">0.0</text>
<text transform="translate(510.4,146.5) scale(1.01,1)" font-size="12.8" text-anchor="end" fill="#000" font-weight="normal"  stroke="#000" stroke-width="0.22">0.1</text>
<text transform="translate(510.4,115.2) scale(1.01,1)" font-size="12.8" text-anchor="end" fill="#000" font-weight="normal"  stroke="#000" stroke-width="0.22">0.2</text>
<text transform="translate(510.4,83.9) scale(1.01,1)" font-size="12.8" text-anchor="end" fill="#000" font-weight="normal"  stroke="#000" stroke-width="0.22">0.3</text>
<text transform="translate(510.4,52.6) scale(1.01,1)" font-size="12.8" text-anchor="end" fill="#000" font-weight="normal"  stroke="#000" stroke-width="0.22">0.4</text>
<text transform="translate(510.4,21.3) scale(1.01,1)" font-size="12.8" text-anchor="end" fill="#000" font-weight="normal"  stroke="#000" stroke-width="0.22">0.5</text>
<text transform="translate(481.8,132.8) rotate(-90)" x="0" y="0" font-size="12.8" textLength="74.9" lengthAdjust="spacingAndGlyphs" stroke="#000" stroke-width="0.22">Stress (MPa)</text>
<text x="581.6" y="211.2" font-size="12.8" textLength="33.5" lengthAdjust="spacingAndGlyphs" stroke="#000" stroke-width="0.22">Strain</text>
<polyline points="519.6,173.3 522.07,173.3 524.54,173.29 527.01,173.29 529.47,173.27 531.94,173.25 534.41,173.22 536.88,173.18 539.35,173.14 541.82,173.08 544.28,173.01 546.75,172.94 549.22,172.85 551.69,172.75 554.16,172.64 556.63,172.51 559.09,172.38 561.56,172.23 564.03,172.06 566.5,171.88 568.97,171.69 571.44,171.48 573.9,171.25 576.37,171.01 578.84,170.76 581.31,170.48 583.78,170.19 586.25,169.89 588.71,169.56 591.18,169.22 593.65,168.86 596.12,168.48 598.59,168.08 601.06,167.66 603.52,167.22 605.99,166.77 608.46,166.29 610.93,165.79 613.4,165.28 615.87,164.74 618.33,164.18 620.8,163.6 623.27,162.99 625.74,162.37 628.21,161.72 630.68,161.05 633.14,160.36 635.61,159.65 638.08,158.91 640.55,158.15 643.02,157.36 645.49,156.56 647.95,155.72 650.42,154.86 652.89,153.98 655.36,153.08 657.83,152.14 660.3,151.19 662.76,150.2 665.23,149.2" fill="none" stroke="#ec7a1c" stroke-width="1.5" stroke-linejoin="round" stroke-linecap="round" />
<line x1="519.6" y1="173.3" x2="545.4" y2="18.8" stroke="#4664b9" stroke-width="1.15"/>
<text x="550.7" y="42.4" font-size="9.4" fill="#3b4a9e" textLength="89.7" lengthAdjust="spacingAndGlyphs" stroke="#3b4a9e" stroke-width="0.12">P(MATAC-<tspan font-style="italic">adj</tspan>-PEMA)</text>
<text x="579.8" y="143.4" font-size="9.4" fill="#ec7a1c" textLength="74.5" lengthAdjust="spacingAndGlyphs" stroke="#ec7a1c" stroke-width="0.12">P(ATAC-<tspan font-style="italic">adj</tspan>-PEA)</text>
<line x1="47.8" y1="411.4" x2="205" y2="411.4" stroke="#1a1a1a" stroke-width="0.9"/>
<line x1="47.8" y1="411.4" x2="47.8" y2="254.4" stroke="#1a1a1a" stroke-width="0.9"/>
<line x1="47.8" y1="411.4" x2="47.8" y2="414.7" stroke="#1a1a1a" stroke-width="0.8"/>
<line x1="74" y1="411.4" x2="74" y2="414.7" stroke="#1a1a1a" stroke-width="0.8"/>
<line x1="100.2" y1="411.4" x2="100.2" y2="414.7" stroke="#1a1a1a" stroke-width="0.8"/>
<line x1="126.4" y1="411.4" x2="126.4" y2="414.7" stroke="#1a1a1a" stroke-width="0.8"/>
<line x1="152.6" y1="411.4" x2="152.6" y2="414.7" stroke="#1a1a1a" stroke-width="0.8"/>
<line x1="178.8" y1="411.4" x2="178.8" y2="414.7" stroke="#1a1a1a" stroke-width="0.8"/>
<line x1="205" y1="411.4" x2="205" y2="414.7" stroke="#1a1a1a" stroke-width="0.8"/>
<line x1="60.9" y1="411.4" x2="60.9" y2="413.4" stroke="#1a1a1a" stroke-width="0.8"/>
<line x1="87.1" y1="411.4" x2="87.1" y2="413.4" stroke="#1a1a1a" stroke-width="0.8"/>
<line x1="113.3" y1="411.4" x2="113.3" y2="413.4" stroke="#1a1a1a" stroke-width="0.8"/>
<line x1="139.5" y1="411.4" x2="139.5" y2="413.4" stroke="#1a1a1a" stroke-width="0.8"/>
<line x1="165.7" y1="411.4" x2="165.7" y2="413.4" stroke="#1a1a1a" stroke-width="0.8"/>
<line x1="191.9" y1="411.4" x2="191.9" y2="413.4" stroke="#1a1a1a" stroke-width="0.8"/>
<line x1="44.5" y1="411.4" x2="47.8" y2="411.4" stroke="#1a1a1a" stroke-width="0.8"/>
<line x1="44.5" y1="380" x2="47.8" y2="380" stroke="#1a1a1a" stroke-width="0.8"/>
<line x1="44.5" y1="348.6" x2="47.8" y2="348.6" stroke="#1a1a1a" stroke-width="0.8"/>
<line x1="44.5" y1="317.2" x2="47.8" y2="317.2" stroke="#1a1a1a" stroke-width="0.8"/>
<line x1="44.5" y1="285.8" x2="47.8" y2="285.8" stroke="#1a1a1a" stroke-width="0.8"/>
<line x1="44.5" y1="254.4" x2="47.8" y2="254.4" stroke="#1a1a1a" stroke-width="0.8"/>
<line x1="45.8" y1="395.7" x2="47.8" y2="395.7" stroke="#1a1a1a" stroke-width="0.8"/>
<line x1="45.8" y1="364.3" x2="47.8" y2="364.3" stroke="#1a1a1a" stroke-width="0.8"/>
<line x1="45.8" y1="332.9" x2="47.8" y2="332.9" stroke="#1a1a1a" stroke-width="0.8"/>
<line x1="45.8" y1="301.5" x2="47.8" y2="301.5" stroke="#1a1a1a" stroke-width="0.8"/>
<line x1="45.8" y1="270.1" x2="47.8" y2="270.1" stroke="#1a1a1a" stroke-width="0.8"/>
<text transform="translate(47.8,429.2) scale(1.01,1)" font-size="12.8" text-anchor="middle" fill="#000" font-weight="normal"  stroke="#000" stroke-width="0.22">0</text>
<text transform="translate(74,429.2) scale(1.01,1)" font-size="12.8" text-anchor="middle" fill="#000" font-weight="normal"  stroke="#000" stroke-width="0.22">2</text>
<text transform="translate(100.2,429.2) scale(1.01,1)" font-size="12.8" text-anchor="middle" fill="#000" font-weight="normal"  stroke="#000" stroke-width="0.22">4</text>
<text transform="translate(126.4,429.2) scale(1.01,1)" font-size="12.8" text-anchor="middle" fill="#000" font-weight="normal"  stroke="#000" stroke-width="0.22">6</text>
<text transform="translate(152.6,429.2) scale(1.01,1)" font-size="12.8" text-anchor="middle" fill="#000" font-weight="normal"  stroke="#000" stroke-width="0.22">8</text>
<text transform="translate(178.8,429.2) scale(1.01,1)" font-size="12.8" text-anchor="middle" fill="#000" font-weight="normal"  stroke="#000" stroke-width="0.22">10</text>
<text transform="translate(205,429.2) scale(1.01,1)" font-size="12.8" text-anchor="middle" fill="#000" font-weight="normal"  stroke="#000" stroke-width="0.22">12</text>
<text transform="translate(38.9,415.9) scale(1.01,1)" font-size="12.8" text-anchor="end" fill="#000" font-weight="normal"  stroke="#000" stroke-width="0.22">0.0</text>
<text transform="translate(38.9,384.5) scale(1.01,1)" font-size="12.8" text-anchor="end" fill="#000" font-weight="normal"  stroke="#000" stroke-width="0.22">0.1</text>
<text transform="translate(38.9,353.1) scale(1.01,1)" font-size="12.8" text-anchor="end" fill="#000" font-weight="normal"  stroke="#000" stroke-width="0.22">0.2</text>
<text transform="translate(38.9,321.7) scale(1.01,1)" font-size="12.8" text-anchor="end" fill="#000" font-weight="normal"  stroke="#000" stroke-width="0.22">0.3</text>
<text transform="translate(38.9,290.3) scale(1.01,1)" font-size="12.8" text-anchor="end" fill="#000" font-weight="normal"  stroke="#000" stroke-width="0.22">0.4</text>
<text transform="translate(38.9,258.9) scale(1.01,1)" font-size="12.8" text-anchor="end" fill="#000" font-weight="normal"  stroke="#000" stroke-width="0.22">0.5</text>
<text transform="translate(9.8,369.9) rotate(-90)" x="0" y="0" font-size="12.8" textLength="74.2" lengthAdjust="spacingAndGlyphs" stroke="#000" stroke-width="0.22">Stress (MPa)</text>
<text x="110" y="448.7" font-size="12.8" textLength="33.3" lengthAdjust="spacingAndGlyphs" stroke="#000" stroke-width="0.22">Strain</text>
<polyline points="47.8,411.4 50.28,411.4 52.76,411.39 55.23,411.39 57.71,411.37 60.19,411.35 62.67,411.32 65.15,411.28 67.62,411.23 70.1,411.18 72.58,411.11 75.06,411.03 77.53,410.94 80.01,410.84 82.49,410.73 84.97,410.6 87.45,410.46 89.92,410.31 92.4,410.14 94.88,409.96 97.36,409.76 99.84,409.55 102.31,409.32 104.79,409.07 107.27,408.81 109.75,408.54 112.23,408.24 114.7,407.93 117.18,407.6 119.66,407.25 122.14,406.88 124.61,406.5 127.09,406.09 129.57,405.67 132.05,405.22 134.53,404.76 137,404.27 139.48,403.77 141.96,403.24 144.44,402.69 146.92,402.12 149.39,401.53 151.87,400.92 154.35,400.29 156.83,399.63 159.31,398.95 161.78,398.25 164.26,397.52 166.74,396.77 169.22,395.99 171.69,395.2 174.17,394.37 176.65,393.53 179.13,392.66 181.61,391.76 184.08,390.84 186.56,389.89 189.04,388.92 191.52,387.92 194,386.89" fill="none" stroke="#7b7e28" stroke-width="2.3" stroke-linejoin="round" stroke-linecap="round" />
<polyline points="47.8,411.29 47.82,411.4 47.89,411.44 47.99,411.42 48.14,411.34 48.34,411.22 48.57,411.05 48.85,410.85 49.17,410.61 49.53,410.35 49.94,410.08 50.39,409.78 50.88,409.47 51.42,409.16 52,408.83 52.62,408.51 53.28,408.19 53.99,407.87 54.73,407.55 55.53,407.24 56.36,406.94 57.24,406.65 58.16,406.36 59.12,406.09 60.13,405.82 61.18,405.56 62.27,405.31 63.4,405.06 64.58,404.82 65.8,404.58 67.06,404.33 68.37,404.09 69.72,403.83 71.11,403.57 72.54,403.29 74.02,402.99 75.54,402.67 77.1,402.33 78.71,401.94 80.35,401.52 82.04,401.06 83.78,400.54 85.56,399.96 87.37,399.32 89.24,398.6 91.14,397.81 93.09,396.92 95.08,395.93 97.11,394.84 99.19,393.63 101.31,392.3 103.47,390.82 105.67,389.21 107.92,387.43 110.21,385.49 112.54,383.36 114.92,381.04 117.34,378.52 119.8,375.78 122.3,372.82 124.85,369.6 127.44,366.13 130.07,362.39 132.75,358.37 135.47,354.04 138.23,349.4 141.03,344.43 143.88,339.11 146.77,333.42 149.7,327.36" fill="none" stroke="#000" stroke-width="2.1" stroke-linejoin="round" stroke-linecap="round" />
<polyline points="47.8,411.29 47.82,411.88 47.87,412.27 47.97,412.49 48.1,412.55 48.27,412.47 48.47,412.28 48.71,411.99 48.99,411.62 49.31,411.18 49.66,410.69 50.05,410.15 50.48,409.59 50.95,409.01 51.45,408.42 51.99,407.83 52.57,407.25 53.18,406.68 53.84,406.12 54.53,405.59 55.25,405.08 56.02,404.6 56.82,404.14 57.66,403.71 58.53,403.31 59.44,402.93 60.39,402.57 61.38,402.24 62.41,401.92 63.47,401.61 64.57,401.31 65.7,401.01 66.88,400.7 68.09,400.38 69.34,400.04 70.62,399.67 71.95,399.26 73.31,398.8 74.7,398.28 76.14,397.7 77.61,397.04 79.12,396.28 80.66,395.42 82.25,394.45 83.87,393.36 85.53,392.12 87.22,390.73 88.95,389.18 90.72,387.45 92.53,385.52 94.38,383.39 96.26,381.04 98.18,378.46 100.13,375.63 102.13,372.53 104.16,369.16 106.23,365.5 108.33,361.54 110.47,357.26 112.65,352.64 114.87,347.68 117.12,342.35 119.42,336.65 121.74,330.57 124.11,324.08 126.51,317.18 128.95,309.85 131.43,302.08 133.95,293.86 136.5,285.18" fill="none" stroke="#2b3088" stroke-width="1.8" stroke-linejoin="round" stroke-linecap="round" />
<polyline points="47.8,411.32 47.82,411.5 47.88,411.59 47.98,411.59 48.11,411.51 48.29,411.37 48.51,411.16 48.76,410.91 49.06,410.61 49.39,410.27 49.77,409.91 50.18,409.52 50.63,409.11 51.12,408.69 51.65,408.26 52.22,407.83 52.83,407.4 53.48,406.97 54.17,406.54 54.9,406.13 55.66,405.72 56.47,405.32 57.32,404.94 58.2,404.56 59.12,404.19 60.09,403.84 61.09,403.49 62.13,403.15 63.21,402.82 64.33,402.48 65.49,402.15 66.69,401.8 67.93,401.45 69.21,401.08 70.53,400.7 71.88,400.28 73.28,399.84 74.71,399.35 76.19,398.82 77.7,398.23 79.26,397.58 80.85,396.85 82.48,396.05 84.15,395.15 85.86,394.15 87.61,393.04 89.4,391.81 91.23,390.44 93.1,388.92 95,387.24 96.95,385.38 98.93,383.34 100.96,381.1 103.02,378.63 105.13,375.94 107.27,372.99 109.45,369.78 111.67,366.29 113.94,362.5 116.24,358.39 118.58,353.94 120.95,349.14 123.37,343.97 125.83,338.4 128.33,332.42 130.86,326 133.44,319.13 136.05,311.78 138.71,303.92 141.4,295.54" fill="none" stroke="#ec7a1c" stroke-width="1.8" stroke-linejoin="round" stroke-linecap="round" />
<text x="133.7" y="280.2" font-size="9" text-anchor="start" fill="#2b3088" font-weight="normal" textLength="18.4" lengthAdjust="spacingAndGlyphs"  stroke="#2b3088" stroke-width="0.12">0.15</text>
<text x="144.1" y="295.6" font-size="9" text-anchor="start" fill="#ec7a1c" font-weight="normal" textLength="17.7" lengthAdjust="spacingAndGlyphs"  stroke="#ec7a1c" stroke-width="0.12">0.10</text>
<text x="152.9" y="327.4" font-size="9" text-anchor="start" fill="#000" font-weight="normal" textLength="17.6" lengthAdjust="spacingAndGlyphs"  stroke="#000" stroke-width="0.12">0.05</text>
<text x="195.9" y="388.9" font-size="9" text-anchor="start" fill="#787d23" font-weight="normal"  stroke="#787d23" stroke-width="0.12">0</text>
<line x1="287.8" y1="411.4" x2="445.8" y2="411.4" stroke="#1a1a1a" stroke-width="0.9"/>
<line x1="287.8" y1="411.4" x2="287.8" y2="254.2" stroke="#1a1a1a" stroke-width="0.9"/>
<line x1="287.8" y1="411.4" x2="287.8" y2="414.7" stroke="#1a1a1a" stroke-width="0.8"/>
<line x1="338.6" y1="411.4" x2="338.6" y2="414.7" stroke="#1a1a1a" stroke-width="0.8"/>
<line x1="389.4" y1="411.4" x2="389.4" y2="414.7" stroke="#1a1a1a" stroke-width="0.8"/>
<line x1="440.2" y1="411.4" x2="440.2" y2="414.7" stroke="#1a1a1a" stroke-width="0.8"/>
<line x1="313.2" y1="411.4" x2="313.2" y2="413.4" stroke="#1a1a1a" stroke-width="0.8"/>
<line x1="364" y1="411.4" x2="364" y2="413.4" stroke="#1a1a1a" stroke-width="0.8"/>
<line x1="414.8" y1="411.4" x2="414.8" y2="413.4" stroke="#1a1a1a" stroke-width="0.8"/>
<line x1="284.5" y1="411.4" x2="287.8" y2="411.4" stroke="#1a1a1a" stroke-width="0.8"/>
<line x1="284.5" y1="359" x2="287.8" y2="359" stroke="#1a1a1a" stroke-width="0.8"/>
<line x1="284.5" y1="306.6" x2="287.8" y2="306.6" stroke="#1a1a1a" stroke-width="0.8"/>
<line x1="284.5" y1="254.2" x2="287.8" y2="254.2" stroke="#1a1a1a" stroke-width="0.8"/>
<line x1="285.8" y1="385.2" x2="287.8" y2="385.2" stroke="#1a1a1a" stroke-width="0.8"/>
<line x1="285.8" y1="332.8" x2="287.8" y2="332.8" stroke="#1a1a1a" stroke-width="0.8"/>
<line x1="285.8" y1="280.4" x2="287.8" y2="280.4" stroke="#1a1a1a" stroke-width="0.8"/>
<text transform="translate(287.8,429.5) scale(1.01,1)" font-size="12.8" text-anchor="middle" fill="#000" font-weight="normal"  stroke="#000" stroke-width="0.22">0</text>
<text transform="translate(338.6,429.5) scale(1.01,1)" font-size="12.8" text-anchor="middle" fill="#000" font-weight="normal"  stroke="#000" stroke-width="0.22">1</text>
<text transform="translate(389.4,429.5) scale(1.01,1)" font-size="12.8" text-anchor="middle" fill="#000" font-weight="normal"  stroke="#000" stroke-width="0.22">2</text>
<text transform="translate(440.2,429.5) scale(1.01,1)" font-size="12.8" text-anchor="middle" fill="#000" font-weight="normal"  stroke="#000" stroke-width="0.22">3</text>
<text transform="translate(278.8,415.9) scale(1.01,1)" font-size="12.8" text-anchor="end" fill="#000" font-weight="normal"  stroke="#000" stroke-width="0.22">0.00</text>
<text transform="translate(278.8,363.5) scale(1.01,1)" font-size="12.8" text-anchor="end" fill="#000" font-weight="normal"  stroke="#000" stroke-width="0.22">0.01</text>
<text transform="translate(278.8,311.1) scale(1.01,1)" font-size="12.8" text-anchor="end" fill="#000" font-weight="normal"  stroke="#000" stroke-width="0.22">0.02</text>
<text transform="translate(278.8,258.7) scale(1.01,1)" font-size="12.8" text-anchor="end" fill="#000" font-weight="normal"  stroke="#000" stroke-width="0.22">0.03</text>
<text transform="translate(240,370.2) rotate(-90)" x="0" y="0" font-size="12.8" textLength="74.4" lengthAdjust="spacingAndGlyphs" stroke="#000" stroke-width="0.22">Stress (MPa)</text>
<text x="350.1" y="449.2" font-size="12.8" textLength="32.8" lengthAdjust="spacingAndGlyphs" stroke="#000" stroke-width="0.22">Strain</text>
<polyline points="287.8,411.36 287.83,410.51 287.93,409.6 288.09,408.64 288.31,407.63 288.6,406.56 288.95,405.44 289.36,404.27 289.84,403.04 290.38,401.76 290.99,400.43 291.66,399.05 292.39,397.62 293.18,396.14 294.05,394.63 294.97,393.07 295.96,391.47 297.01,389.83 298.12,388.17 299.3,386.47 300.55,384.74 301.85,382.99 303.22,381.21 304.66,379.41 306.15,377.6 307.71,375.77 309.34,373.93 311.03,372.08 312.78,370.23 314.6,368.36 316.48,366.5 318.42,364.63 320.43,362.76 322.5,360.89 324.63,359.03 326.83,357.16 329.09,355.3 331.42,353.45 333.81,351.59 336.26,349.74 338.78,347.89 341.36,346.04 344.01,344.19 346.71,342.33 349.49,340.47 352.32,338.59 355.22,336.7 358.19,334.79 361.21,332.86 364.3,330.89 367.46,328.89 370.68,326.85 373.96,324.75 377.3,322.59 380.71,320.36 384.19,318.06 387.72,315.67 391.32,313.17 394.99,310.56 398.72,307.83 402.51,304.95 406.36,301.92 410.28,298.72 414.26,295.34 418.31,291.74 422.42,287.93 426.6,283.87 430.83,279.55 435.13,274.95 439.5,270.04" fill="none" stroke="#1a1a1a" stroke-width="1.1" stroke-linejoin="round" stroke-linecap="round" />
<polyline points="297.3,411.6 297.33,411.77 297.42,411.76 297.57,411.59 297.78,411.27 298.05,410.81 298.37,410.23 298.76,409.52 299.21,408.71 299.72,407.8 300.28,406.8 300.91,405.73 301.59,404.58 302.34,403.37 303.15,402.1 304.01,400.78 304.94,399.43 305.92,398.03 306.96,396.61 308.07,395.15 309.23,393.68 310.45,392.19 311.74,390.69 313.08,389.18 314.48,387.66 315.94,386.14 317.46,384.61 319.04,383.08 320.68,381.56 322.38,380.03 324.14,378.51 325.96,376.99 327.84,375.46 329.78,373.94 331.78,372.41 333.84,370.88 335.95,369.34 338.13,367.79 340.37,366.23 342.66,364.64 345.02,363.04 347.44,361.41 349.91,359.74 352.45,358.04 355.04,356.29 357.7,354.5 360.41,352.64 363.18,350.72 366.02,348.73 368.91,346.65 371.86,344.49 374.88,342.22 377.95,339.84 381.08,337.34 384.27,334.72 387.52,331.95 390.83,329.02 394.2,325.93 397.63,322.67 401.12,319.21 404.67,315.54 408.28,311.66 411.95,307.55 415.68,303.18 419.47,298.56 423.31,293.66 427.22,288.46 431.19,282.95 435.21,277.11 439.3,270.93" fill="none" stroke="#1a1a1a" stroke-width="1.1" stroke-linejoin="round" stroke-linecap="round" />
<polyline points="287.8,411.36 287.83,410.51 287.93,409.61 288.09,408.65 288.31,407.65 288.6,406.59 288.95,405.48 289.36,404.32 289.84,403.1 290.38,401.84 290.99,400.53 291.66,399.17 292.39,397.76 293.18,396.31 294.05,394.82 294.97,393.29 295.96,391.73 297.01,390.13 298.12,388.49 299.3,386.83 300.55,385.14 301.85,383.43 303.22,381.7 304.66,379.95 306.15,378.18 307.71,376.4 309.34,374.61 311.03,372.82 312.78,371.02 314.6,369.21 316.48,367.4 318.42,365.6 320.43,363.79 322.5,361.99 324.63,360.19 326.83,358.4 329.09,356.61 331.42,354.83 333.81,353.05 336.26,351.28 338.78,349.49 341.36,347.64 344.01,345.79 346.71,343.93 349.49,342.07 352.32,340.19 355.22,338.3 358.19,336.39 361.21,334.46 364.3,332.49 367.46,330.49 370.68,328.45 373.96,326.35 377.3,324.19 380.71,321.96 384.19,319.66 387.72,317.27 391.32,314.77 394.99,312.16 398.72,309.43 402.51,306.55 406.36,303.52 410.28,300.32 414.26,296.94 418.31,293.34 422.42,289.53 426.6,285.47 430.83,281.15 435.13,276.55 439,273.6" fill="none" stroke="#5b7fc8" stroke-width="1.1" stroke-linejoin="round" stroke-linecap="round" />
<polyline points="296.1,411.6 296.13,411.77 296.22,411.76 296.37,411.59 296.58,411.27 296.85,410.8 297.18,410.21 297.57,409.5 298.02,408.68 298.54,407.77 299.11,406.76 299.74,405.67 300.43,404.52 301.18,403.29 302,402.01 302.87,400.69 303.8,399.31 304.79,397.9 305.85,396.46 306.96,394.99 308.13,393.5 309.36,392 310.66,390.48 312.01,388.94 313.42,387.41 314.9,385.86 316.43,384.31 318.03,382.76 319.68,381.21 321.4,379.66 323.17,378.11 325,376.56 326.9,375.01 328.85,373.46 330.87,371.9 332.95,370.34 335.08,368.77 337.28,367.19 339.53,365.59 341.85,363.97 344.22,362.34 346.66,360.71 349.16,359.04 351.71,357.34 354.33,355.59 357.01,353.8 359.74,351.94 362.54,350.02 365.4,348.03 368.32,345.95 371.29,343.79 374.33,341.52 377.43,339.14 380.59,336.64 383.81,334.02 387.09,331.25 390.42,328.32 393.82,325.23 397.28,321.97 400.8,318.51 404.38,314.84 408.02,310.96 411.72,306.85 415.48,302.48 419.3,297.86 423.18,292.96 427.12,287.76 431.12,282.25 435.18,276.41 439,273.6" fill="none" stroke="#5b7fc8" stroke-width="1.1" stroke-linejoin="round" stroke-linecap="round" />
<polyline points="287.8,411.36 287.83,410.51 287.93,409.61 288.09,408.66 288.31,407.65 288.6,406.6 288.95,405.49 289.36,404.33 289.84,403.13 290.38,401.87 290.99,400.56 291.66,399.21 292.39,397.82 293.18,396.38 294.05,394.9 294.97,393.38 295.96,391.82 297.01,390.23 298.12,388.62 299.3,386.97 300.55,385.29 301.85,383.6 303.22,381.88 304.66,380.15 306.15,378.4 307.71,376.64 309.34,374.87 311.03,373.09 312.78,371.31 314.6,369.53 316.48,367.74 318.42,365.96 320.43,364.18 322.5,362.4 324.63,360.63 326.83,358.86 329.09,357.1 331.42,355.35 333.81,353.6 336.26,351.85 338.78,350.09 341.36,348.24 344.01,346.39 346.71,344.53 349.49,342.67 352.32,340.79 355.22,338.9 358.19,336.99 361.21,335.06 364.3,333.09 367.46,331.09 370.68,329.05 373.96,326.95 377.3,324.79 380.71,322.56 384.19,320.26 387.72,317.87 391.32,315.37 394.99,312.76 398.72,310.03 402.51,307.15 406.36,304.12 410.28,300.92 414.26,297.54 418.31,293.94 422.42,290.13 426.6,286.07 430.83,281.75 435.13,277.15 439.4,274.6" fill="none" stroke="#ee7f2d" stroke-width="1.1" stroke-linejoin="round" stroke-linecap="round" />
<polyline points="297.8,411.6 297.83,411.77 297.92,411.76 298.07,411.6 298.28,411.28 298.54,410.82 298.87,410.24 299.26,409.54 299.7,408.73 300.21,407.83 300.77,406.84 301.4,405.77 302.08,404.63 302.82,403.43 303.63,402.17 304.49,400.87 305.41,399.52 306.39,398.14 307.43,396.73 308.53,395.29 309.69,393.83 310.91,392.36 312.18,390.87 313.52,389.38 314.92,387.88 316.38,386.37 317.89,384.87 319.47,383.36 321.1,381.86 322.8,380.35 324.55,378.85 326.36,377.35 328.23,375.85 330.17,374.35 332.16,372.85 334.21,371.34 336.32,369.83 338.49,368.31 340.72,366.77 343.01,365.22 345.35,363.64 347.76,362.01 350.23,360.34 352.75,358.64 355.34,356.89 357.98,355.1 360.69,353.24 363.45,351.32 366.28,349.33 369.16,347.25 372.1,345.09 375.1,342.82 378.16,340.44 381.29,337.94 384.47,335.32 387.7,332.55 391,329.62 394.36,326.53 397.78,323.27 401.26,319.81 404.79,316.14 408.39,312.26 412.05,308.15 415.76,303.78 419.54,299.16 423.37,294.26 427.26,289.06 431.22,283.55 435.23,277.71 439.4,274.6" fill="none" stroke="#ee7f2d" stroke-width="1.1" stroke-linejoin="round" stroke-linecap="round" />
<polyline points="316.5,411.6 317.21,411.54 318.14,411.46 319.24,411.37 320.47,411.26 321.79,411.14 323.17,411.01 324.55,410.86 325.9,410.7 327.25,410.52 328.67,410.31 330.12,410.09 331.61,409.85 333.12,409.61 334.63,409.36 336.13,409.13 337.6,408.9 339.03,408.68 340.41,408.47 341.77,408.26 343.14,408.06 344.55,407.85 346.01,407.64 347.55,407.42 349.2,407.2 350.92,406.98 352.68,406.77 354.48,406.55 356.36,406.34 358.33,406.11 360.42,405.86 362.63,405.6 365,405.3 367.56,404.97 370.32,404.62 373.22,404.24 376.23,403.85 379.3,403.44 382.38,403.03 385.43,402.61 388.4,402.2 391.36,401.78 394.37,401.34 397.4,400.89 400.42,400.44 403.39,399.99 406.29,399.54 409.07,399.11 411.7,398.7 414.22,398.3 416.67,397.91 419.04,397.53 421.32,397.16 423.49,396.8 425.53,396.45 427.44,396.12 429.2,395.8 430.82,395.5 432.3,395.22 433.66,394.96 434.89,394.71 435.99,394.47 436.98,394.24 437.85,394.02 438.6,393.8 439.19,393.58 439.61,393.35 439.88,393.13 440.04,392.93 440.13,392.73 440.18,392.56 440.22,392.41 440.3,392.3" fill="none" stroke="#1a1a1a" stroke-width="1.5" stroke-linejoin="round" stroke-linecap="round" />
<polyline points="287.9,410.9 288.19,410.78 288.54,410.62 288.96,410.43 289.44,410.22 289.98,409.99 290.59,409.76 291.26,409.52 292,409.28 292.79,409.04 293.63,408.79 294.52,408.53 295.48,408.27 296.52,408 297.65,407.71 298.87,407.43 300.2,407.13 301.65,406.82 303.21,406.49 304.87,406.15 306.62,405.8 308.44,405.45 310.32,405.11 312.24,404.77 314.2,404.44 316.22,404.13 318.33,403.8 320.51,403.49 322.73,403.17 324.98,402.87 327.24,402.58 329.49,402.3 331.7,402.04 333.9,401.81 336.11,401.6 338.34,401.41 340.56,401.23 342.76,401.06 344.94,400.88 347.09,400.7 349.2,400.5 351.2,400.29 353.09,400.08 354.92,399.86 356.73,399.63 358.59,399.41 360.56,399.18 362.67,398.94 365,398.7 367.56,398.45 370.32,398.2 373.22,397.93 376.23,397.67 379.3,397.4 382.38,397.13 385.43,396.86 388.4,396.6 391.36,396.33 394.37,396.06 397.4,395.78 400.42,395.51 403.39,395.24 406.29,394.98 409.07,394.73 411.7,394.5 414.21,394.29 416.63,394.09 418.97,393.91 421.21,393.74 423.36,393.57 425.41,393.41 427.36,393.26 429.2,393.1 430.97,392.94 432.69,392.78 434.32,392.62 435.84,392.46 437.23,392.32 438.46,392.19 439.49,392.08 440.3,392" fill="none" stroke="#1a1a1a" stroke-width="0.7" stroke-linejoin="round" stroke-linecap="round" />
<polyline points="316.5,411.6 317.21,411.54 318.14,411.46 319.24,411.37 320.47,411.26 321.79,411.14 323.17,411.01 324.55,410.86 325.9,410.7 327.25,410.52 328.67,410.31 330.12,410.09 331.61,409.85 333.12,409.61 334.63,409.36 336.13,409.13 337.6,408.9 339.03,408.68 340.41,408.47 341.77,408.26 343.14,408.06 344.55,407.85 346.01,407.64 347.55,407.42 349.2,407.2 350.92,406.98 352.68,406.77 354.48,406.55 356.36,406.34 358.33,406.11 360.42,405.86 362.63,405.6 365,405.3 367.56,404.97 370.32,404.62 373.22,404.24 376.23,403.85 379.3,403.44 382.38,403.03 385.43,402.61 388.4,402.2 391.36,401.78 394.37,401.34 397.4,400.89 400.42,400.44 403.39,399.99 406.29,399.54 409.07,399.11 411.7,398.7 414.22,398.3 416.67,397.91 419.04,397.53 421.32,397.16 423.49,396.8 425.53,396.45 427.44,396.12 429.2,395.8 430.82,395.5 432.3,395.22 433.66,394.96 434.89,394.71 435.99,394.47 436.98,394.24 437.85,394.02 438.6,393.8 439.19,393.58 439.61,393.35 439.88,393.13 440.04,392.93 440.13,392.73 440.18,392.56 440.22,392.41 440.3,392.3" fill="none" stroke="#ee7f2d" stroke-width="0.9" stroke-linejoin="round" stroke-linecap="round" />
<polyline points="287.9,410.9 288.19,410.78 288.54,410.63 288.96,410.45 289.44,410.24 289.98,410.02 290.59,409.79 291.26,409.55 292,409.32 292.79,409.09 293.63,408.86 294.52,408.61 295.48,408.36 296.52,408.1 297.65,407.83 298.87,407.55 300.2,407.27 301.65,406.98 303.21,406.67 304.87,406.35 306.62,406.02 308.44,405.7 310.32,405.37 312.24,405.06 314.2,404.76 316.22,404.46 318.33,404.17 320.51,403.88 322.73,403.59 324.98,403.31 327.24,403.05 329.49,402.8 331.7,402.56 333.9,402.34 336.11,402.15 338.34,401.97 340.56,401.8 342.76,401.64 344.94,401.47 347.09,401.29 349.2,401.1 351.2,400.89 353.09,400.68 354.92,400.46 356.73,400.24 358.59,400.01 360.56,399.78 362.67,399.54 365,399.3 367.56,399.05 370.32,398.8 373.22,398.53 376.23,398.27 379.3,398 382.38,397.73 385.43,397.46 388.4,397.2 391.36,396.93 394.37,396.66 397.4,396.38 400.42,396.11 403.39,395.84 406.29,395.58 409.07,395.33 411.7,395.1 414.21,394.89 416.63,394.69 418.97,394.51 421.21,394.34 423.36,394.17 425.41,394.01 427.36,393.86 429.2,393.7 430.97,393.54 432.69,393.38 434.32,393.22 435.84,393.06 437.23,392.92 438.46,392.79 439.49,392.68 440.3,392.6" fill="none" stroke="#ee7f2d" stroke-width="1" stroke-linejoin="round" stroke-linecap="round" />
<line x1="436.5" y1="392.7" x2="440.6" y2="392" stroke="#5b7fc8" stroke-width="0.9"/>
<line x1="302" y1="270.7" x2="325.1" y2="270.7" stroke="#1a1a1a" stroke-width="1"/>
<line x1="302" y1="283.1" x2="325.1" y2="283.1" stroke="#5b7fc8" stroke-width="1"/>
<line x1="302" y1="295.2" x2="325.1" y2="295.2" stroke="#ee7f2d" stroke-width="1"/>
<text x="329.2" y="273.6" font-size="9" text-anchor="start" fill="#000" font-weight="normal" textLength="31.8" lengthAdjust="spacingAndGlyphs"  stroke="#000" stroke-width="0.12">Original</text>
<text x="329.2" y="286" font-size="9" text-anchor="start" fill="#000" font-weight="normal" textLength="17.2" lengthAdjust="spacingAndGlyphs"  stroke="#000" stroke-width="0.12">30 s</text>
<text x="329.2" y="298.2" font-size="9" text-anchor="start" fill="#000" font-weight="normal" textLength="22.7" lengthAdjust="spacingAndGlyphs"  stroke="#000" stroke-width="0.12">1 min</text>
<text x="405.8" y="282.6" font-size="9" text-anchor="start" fill="#000" font-weight="normal" textLength="11.2" lengthAdjust="spacingAndGlyphs"  stroke="#000" stroke-width="0.12">0.1</text>
<text x="427.9" y="387.9" font-size="9" text-anchor="start" fill="#000" font-weight="normal"  stroke="#000" stroke-width="0.12">0</text>
<line x1="519.4" y1="411.5" x2="677.6" y2="411.5" stroke="#1a1a1a" stroke-width="0.9"/>
<line x1="519.54" y1="411.5" x2="519.54" y2="413.7" stroke="#1a1a1a" stroke-width="0.8"/>
<line x1="521.3" y1="411.5" x2="521.3" y2="415.3" stroke="#1a1a1a" stroke-width="0.8"/>
<line x1="532.89" y1="411.5" x2="532.89" y2="413.7" stroke="#1a1a1a" stroke-width="0.8"/>
<line x1="539.67" y1="411.5" x2="539.67" y2="413.7" stroke="#1a1a1a" stroke-width="0.8"/>
<line x1="544.48" y1="411.5" x2="544.48" y2="413.7" stroke="#1a1a1a" stroke-width="0.8"/>
<line x1="548.21" y1="411.5" x2="548.21" y2="413.7" stroke="#1a1a1a" stroke-width="0.8"/>
<line x1="551.26" y1="411.5" x2="551.26" y2="413.7" stroke="#1a1a1a" stroke-width="0.8"/>
<line x1="553.84" y1="411.5" x2="553.84" y2="413.7" stroke="#1a1a1a" stroke-width="0.8"/>
<line x1="556.07" y1="411.5" x2="556.07" y2="413.7" stroke="#1a1a1a" stroke-width="0.8"/>
<line x1="558.04" y1="411.5" x2="558.04" y2="413.7" stroke="#1a1a1a" stroke-width="0.8"/>
<line x1="559.8" y1="411.5" x2="559.8" y2="415.3" stroke="#1a1a1a" stroke-width="0.8"/>
<line x1="571.39" y1="411.5" x2="571.39" y2="413.7" stroke="#1a1a1a" stroke-width="0.8"/>
<line x1="578.17" y1="411.5" x2="578.17" y2="413.7" stroke="#1a1a1a" stroke-width="0.8"/>
<line x1="582.98" y1="411.5" x2="582.98" y2="413.7" stroke="#1a1a1a" stroke-width="0.8"/>
<line x1="586.71" y1="411.5" x2="586.71" y2="413.7" stroke="#1a1a1a" stroke-width="0.8"/>
<line x1="589.76" y1="411.5" x2="589.76" y2="413.7" stroke="#1a1a1a" stroke-width="0.8"/>
<line x1="592.34" y1="411.5" x2="592.34" y2="413.7" stroke="#1a1a1a" stroke-width="0.8"/>
<line x1="594.57" y1="411.5" x2="594.57" y2="413.7" stroke="#1a1a1a" stroke-width="0.8"/>
<line x1="596.54" y1="411.5" x2="596.54" y2="413.7" stroke="#1a1a1a" stroke-width="0.8"/>
<line x1="598.3" y1="411.5" x2="598.3" y2="415.3" stroke="#1a1a1a" stroke-width="0.8"/>
<line x1="609.89" y1="411.5" x2="609.89" y2="413.7" stroke="#1a1a1a" stroke-width="0.8"/>
<line x1="616.67" y1="411.5" x2="616.67" y2="413.7" stroke="#1a1a1a" stroke-width="0.8"/>
<line x1="621.48" y1="411.5" x2="621.48" y2="413.7" stroke="#1a1a1a" stroke-width="0.8"/>
<line x1="625.21" y1="411.5" x2="625.21" y2="413.7" stroke="#1a1a1a" stroke-width="0.8"/>
<line x1="628.26" y1="411.5" x2="628.26" y2="413.7" stroke="#1a1a1a" stroke-width="0.8"/>
<line x1="630.84" y1="411.5" x2="630.84" y2="413.7" stroke="#1a1a1a" stroke-width="0.8"/>
<line x1="633.07" y1="411.5" x2="633.07" y2="413.7" stroke="#1a1a1a" stroke-width="0.8"/>
<line x1="635.04" y1="411.5" x2="635.04" y2="413.7" stroke="#1a1a1a" stroke-width="0.8"/>
<line x1="636.8" y1="411.5" x2="636.8" y2="415.3" stroke="#1a1a1a" stroke-width="0.8"/>
<line x1="648.39" y1="411.5" x2="648.39" y2="413.7" stroke="#1a1a1a" stroke-width="0.8"/>
<line x1="655.17" y1="411.5" x2="655.17" y2="413.7" stroke="#1a1a1a" stroke-width="0.8"/>
<line x1="659.98" y1="411.5" x2="659.98" y2="413.7" stroke="#1a1a1a" stroke-width="0.8"/>
<line x1="663.71" y1="411.5" x2="663.71" y2="413.7" stroke="#1a1a1a" stroke-width="0.8"/>
<line x1="666.76" y1="411.5" x2="666.76" y2="413.7" stroke="#1a1a1a" stroke-width="0.8"/>
<line x1="669.34" y1="411.5" x2="669.34" y2="413.7" stroke="#1a1a1a" stroke-width="0.8"/>
<line x1="671.57" y1="411.5" x2="671.57" y2="413.7" stroke="#1a1a1a" stroke-width="0.8"/>
<line x1="673.54" y1="411.5" x2="673.54" y2="413.7" stroke="#1a1a1a" stroke-width="0.8"/>
<line x1="675.3" y1="411.5" x2="675.3" y2="415.3" stroke="#1a1a1a" stroke-width="0.8"/>
<text transform="translate(509.51,432.5) scale(1.02,1)" font-size="12.6" fill="#000" stroke="#000" stroke-width="0.22">10<tspan dy="-5.4" font-size="8.5">−2</tspan></text>
<text transform="translate(548.01,432.5) scale(1.02,1)" font-size="12.6" fill="#000" stroke="#000" stroke-width="0.22">10<tspan dy="-5.4" font-size="8.5">−1</tspan></text>
<text transform="translate(589.04,432.5) scale(1.02,1)" font-size="12.6" fill="#000" stroke="#000" stroke-width="0.22">10<tspan dy="-5.4" font-size="8.5">0</tspan></text>
<text transform="translate(627.54,432.5) scale(1.02,1)" font-size="12.6" fill="#000" stroke="#000" stroke-width="0.22">10<tspan dy="-5.4" font-size="8.5">1</tspan></text>
<text transform="translate(666.04,432.5) scale(1.02,1)" font-size="12.6" fill="#000" stroke="#000" stroke-width="0.22">10<tspan dy="-5.4" font-size="8.5">2</tspan></text>
<line x1="519.4" y1="411.5" x2="519.4" y2="254" stroke="#1a1a1a" stroke-width="0.9"/>
<line x1="517.4" y1="411.62" x2="519.4" y2="411.62" stroke="#1a1a1a" stroke-width="0.8"/>
<line x1="517.4" y1="403.83" x2="519.4" y2="403.83" stroke="#1a1a1a" stroke-width="0.8"/>
<line x1="517.4" y1="397.24" x2="519.4" y2="397.24" stroke="#1a1a1a" stroke-width="0.8"/>
<line x1="517.4" y1="391.54" x2="519.4" y2="391.54" stroke="#1a1a1a" stroke-width="0.8"/>
<line x1="517.4" y1="386.5" x2="519.4" y2="386.5" stroke="#1a1a1a" stroke-width="0.8"/>
<line x1="516.2" y1="382" x2="519.4" y2="382" stroke="#1a1a1a" stroke-width="0.8"/>
<line x1="517.4" y1="352.38" x2="519.4" y2="352.38" stroke="#1a1a1a" stroke-width="0.8"/>
<line x1="517.4" y1="335.05" x2="519.4" y2="335.05" stroke="#1a1a1a" stroke-width="0.8"/>
<line x1="517.4" y1="322.76" x2="519.4" y2="322.76" stroke="#1a1a1a" stroke-width="0.8"/>
<line x1="517.4" y1="313.22" x2="519.4" y2="313.22" stroke="#1a1a1a" stroke-width="0.8"/>
<line x1="517.4" y1="305.43" x2="519.4" y2="305.43" stroke="#1a1a1a" stroke-width="0.8"/>
<line x1="517.4" y1="298.84" x2="519.4" y2="298.84" stroke="#1a1a1a" stroke-width="0.8"/>
<line x1="517.4" y1="293.14" x2="519.4" y2="293.14" stroke="#1a1a1a" stroke-width="0.8"/>
<line x1="517.4" y1="288.1" x2="519.4" y2="288.1" stroke="#1a1a1a" stroke-width="0.8"/>
<line x1="516.2" y1="283.6" x2="519.4" y2="283.6" stroke="#1a1a1a" stroke-width="0.8"/>
<line x1="517.4" y1="253.98" x2="519.4" y2="253.98" stroke="#1a1a1a" stroke-width="0.8"/>
<text transform="translate(492.08,287.5) scale(1.02,1)" font-size="12.6" fill="#000" stroke="#000" stroke-width="0.22">10<tspan dy="-5.4" font-size="8.5">3</tspan></text>
<text transform="translate(492.08,385.9) scale(1.02,1)" font-size="12.6" fill="#000" stroke="#000" stroke-width="0.22">10<tspan dy="-5.4" font-size="8.5">2</tspan></text>
<text transform="translate(483.8,375.3) rotate(-90)" x="0" y="0" font-size="12.8" textLength="84.1" lengthAdjust="spacingAndGlyphs" stroke="#000" stroke-width="0.22">G′ and G″ (Pa)</text>
<text transform="translate(539.5,454.3) scale(1.0510,1)" font-size="12.5" stroke="#000" stroke-width="0.22">Frequency (rad s<tspan dy="-5" font-size="8.2">−1</tspan><tspan dy="5">)</tspan></text>
<g fill="#2b3088"><circle cx="521" cy="299.37" r="2.8"/><circle cx="524.78" cy="298.58" r="2.8"/><circle cx="528.58" cy="297.76" r="2.8"/><circle cx="532.4" cy="296.9" r="2.8"/><circle cx="536.22" cy="296.01" r="2.8"/><circle cx="540.07" cy="295.09" r="2.8"/><circle cx="543.92" cy="294.13" r="2.8"/><circle cx="547.79" cy="293.15" r="2.8"/><circle cx="551.68" cy="292.14" r="2.8"/><circle cx="555.58" cy="291.11" r="2.8"/><circle cx="559.49" cy="290.06" r="2.8"/><circle cx="563.41" cy="288.99" r="2.8"/><circle cx="567.36" cy="287.9" r="2.8"/><circle cx="571.31" cy="286.8" r="2.8"/><circle cx="575.28" cy="285.68" r="2.8"/><circle cx="579.26" cy="284.56" r="2.8"/><circle cx="583.26" cy="283.43" r="2.8"/><circle cx="587.27" cy="282.3" r="2.8"/><circle cx="591.3" cy="281.16" r="2.8"/><circle cx="595.34" cy="280.03" r="2.8"/><circle cx="599.39" cy="278.9" r="2.8"/><circle cx="603.46" cy="277.78" r="2.8"/><circle cx="607.55" cy="276.66" r="2.8"/><circle cx="611.64" cy="275.56" r="2.8"/><circle cx="615.75" cy="274.48" r="2.8"/><circle cx="619.88" cy="273.42" r="2.8"/><circle cx="624.02" cy="272.37" r="2.8"/><circle cx="628.17" cy="271.35" r="2.8"/><circle cx="632.34" cy="270.37" r="2.8"/><circle cx="636.52" cy="269.41" r="2.8"/><circle cx="640.72" cy="268.49" r="2.8"/><circle cx="644.93" cy="267.6" r="2.8"/><circle cx="649.15" cy="266.76" r="2.8"/><circle cx="653.39" cy="265.97" r="2.8"/><circle cx="657.65" cy="265.22" r="2.8"/><circle cx="661.91" cy="264.53" r="2.8"/><circle cx="666.19" cy="263.9" r="2.8"/><circle cx="670.49" cy="263.32" r="2.8"/><circle cx="674.8" cy="262.81" r="2.8"/></g>
<g fill="#ec7a1c"><circle cx="521" cy="309.8" r="2.8"/><circle cx="524.78" cy="309.04" r="2.8"/><circle cx="528.58" cy="308.22" r="2.8"/><circle cx="532.4" cy="307.33" r="2.8"/><circle cx="536.22" cy="306.4" r="2.8"/><circle cx="540.07" cy="305.41" r="2.8"/><circle cx="543.92" cy="304.37" r="2.8"/><circle cx="547.79" cy="303.28" r="2.8"/><circle cx="551.68" cy="302.15" r="2.8"/><circle cx="555.58" cy="300.99" r="2.8"/><circle cx="559.49" cy="299.78" r="2.8"/><circle cx="563.41" cy="298.55" r="2.8"/><circle cx="567.36" cy="297.29" r="2.8"/><circle cx="571.31" cy="296" r="2.8"/><circle cx="575.28" cy="294.7" r="2.8"/><circle cx="579.26" cy="293.37" r="2.8"/><circle cx="583.26" cy="292.04" r="2.8"/><circle cx="587.27" cy="290.69" r="2.8"/><circle cx="591.3" cy="289.35" r="2.8"/><circle cx="595.34" cy="288" r="2.8"/><circle cx="599.39" cy="286.66" r="2.8"/><circle cx="603.46" cy="285.33" r="2.8"/><circle cx="607.55" cy="284.01" r="2.8"/><circle cx="611.64" cy="282.71" r="2.8"/><circle cx="615.75" cy="281.43" r="2.8"/><circle cx="619.88" cy="280.18" r="2.8"/><circle cx="624.02" cy="278.97" r="2.8"/><circle cx="628.17" cy="277.79" r="2.8"/><circle cx="632.34" cy="276.66" r="2.8"/><circle cx="636.52" cy="275.58" r="2.8"/><circle cx="640.72" cy="274.55" r="2.8"/><circle cx="644.93" cy="273.58" r="2.8"/><circle cx="649.15" cy="272.68" r="2.8"/><circle cx="653.39" cy="271.84" r="2.8"/><circle cx="657.65" cy="271.09" r="2.8"/><circle cx="661.91" cy="270.42" r="2.8"/><circle cx="666.19" cy="269.83" r="2.8"/><circle cx="670.49" cy="269.35" r="2.8"/><circle cx="674.8" cy="268.96" r="2.8"/></g>
<g fill="#787d23"><circle cx="521" cy="315.71" r="2.8"/><circle cx="524.78" cy="314.95" r="2.8"/><circle cx="528.58" cy="314.14" r="2.8"/><circle cx="532.4" cy="313.28" r="2.8"/><circle cx="536.22" cy="312.37" r="2.8"/><circle cx="540.07" cy="311.41" r="2.8"/><circle cx="543.92" cy="310.41" r="2.8"/><circle cx="547.79" cy="309.37" r="2.8"/><circle cx="551.68" cy="308.3" r="2.8"/><circle cx="555.58" cy="307.19" r="2.8"/><circle cx="559.49" cy="306.06" r="2.8"/><circle cx="563.41" cy="304.9" r="2.8"/><circle cx="567.36" cy="303.71" r="2.8"/><circle cx="571.31" cy="302.52" r="2.8"/><circle cx="575.28" cy="301.3" r="2.8"/><circle cx="579.26" cy="300.08" r="2.8"/><circle cx="583.26" cy="298.85" r="2.8"/><circle cx="587.27" cy="297.63" r="2.8"/><circle cx="591.3" cy="296.4" r="2.8"/><circle cx="595.34" cy="295.18" r="2.8"/><circle cx="599.39" cy="293.98" r="2.8"/><circle cx="603.46" cy="292.79" r="2.8"/><circle cx="607.55" cy="291.62" r="2.8"/><circle cx="611.64" cy="290.48" r="2.8"/><circle cx="615.75" cy="289.36" r="2.8"/><circle cx="619.88" cy="288.29" r="2.8"/><circle cx="624.02" cy="287.25" r="2.8"/><circle cx="628.17" cy="286.26" r="2.8"/><circle cx="632.34" cy="285.32" r="2.8"/><circle cx="636.52" cy="284.44" r="2.8"/><circle cx="640.72" cy="283.61" r="2.8"/><circle cx="644.93" cy="282.86" r="2.8"/><circle cx="649.15" cy="282.18" r="2.8"/><circle cx="653.39" cy="281.57" r="2.8"/><circle cx="657.65" cy="281.05" r="2.8"/><circle cx="661.91" cy="280.62" r="2.8"/><circle cx="666.19" cy="280.29" r="2.8"/><circle cx="670.49" cy="280.06" r="2.8"/><circle cx="674.8" cy="279.93" r="2.8"/></g>
<g fill="#fff" stroke="#2b3088" stroke-width="1.05"><circle cx="521" cy="383.3" r="2.15"/><circle cx="524.78" cy="379.86" r="2.15"/><circle cx="528.58" cy="376.52" r="2.15"/><circle cx="532.4" cy="373.6" r="2.15"/><circle cx="536.22" cy="371.2" r="2.15"/><circle cx="540.07" cy="369.09" r="2.15"/><circle cx="543.92" cy="367.16" r="2.15"/><circle cx="547.79" cy="365.36" r="2.15"/><circle cx="551.68" cy="363.76" r="2.15"/><circle cx="555.58" cy="362.3" r="2.15"/><circle cx="559.49" cy="360.93" r="2.15"/><circle cx="563.41" cy="359.75" r="2.15"/><circle cx="567.36" cy="358.63" r="2.15"/><circle cx="571.31" cy="357.4" r="2.15"/><circle cx="575.28" cy="355.86" r="2.15"/><circle cx="579.26" cy="354.16" r="2.15"/><circle cx="583.26" cy="352.58" r="2.15"/><circle cx="587.27" cy="351.37" r="2.15"/><circle cx="591.3" cy="350.42" r="2.15"/><circle cx="595.34" cy="349.62" r="2.15"/><circle cx="599.39" cy="348.93" r="2.15"/><circle cx="603.46" cy="348.49" r="2.15"/><circle cx="607.55" cy="348.77" r="2.15"/><circle cx="611.64" cy="349.46" r="2.15"/><circle cx="615.75" cy="350.36" r="2.15"/><circle cx="619.88" cy="351.39" r="2.15"/><circle cx="624.02" cy="352.61" r="2.15"/><circle cx="628.17" cy="353.92" r="2.15"/><circle cx="632.34" cy="355.2" r="2.15"/><circle cx="636.52" cy="356.35" r="2.15"/><circle cx="640.72" cy="357.45" r="2.15"/><circle cx="644.93" cy="358.61" r="2.15"/><circle cx="649.15" cy="359.91" r="2.15"/><circle cx="653.39" cy="361.29" r="2.15"/><circle cx="657.65" cy="362.77" r="2.15"/><circle cx="661.91" cy="364.44" r="2.15"/><circle cx="666.19" cy="366.43" r="2.15"/><circle cx="670.49" cy="368.74" r="2.15"/><circle cx="674.8" cy="372.2" r="2.15"/></g>
<g fill="#fff" stroke="#ec7a1c" stroke-width="1.05"><circle cx="521" cy="388.6" r="2.15"/><circle cx="524.78" cy="385.88" r="2.15"/><circle cx="528.58" cy="383.23" r="2.15"/><circle cx="532.4" cy="380.83" r="2.15"/><circle cx="536.22" cy="378.76" r="2.15"/><circle cx="540.07" cy="376.87" r="2.15"/><circle cx="543.92" cy="375.05" r="2.15"/><circle cx="547.79" cy="373.25" r="2.15"/><circle cx="551.68" cy="371.53" r="2.15"/><circle cx="555.58" cy="369.81" r="2.15"/><circle cx="559.49" cy="367.97" r="2.15"/><circle cx="563.41" cy="365.9" r="2.15"/><circle cx="567.36" cy="363.81" r="2.15"/><circle cx="571.31" cy="361.92" r="2.15"/><circle cx="575.28" cy="360.36" r="2.15"/><circle cx="579.26" cy="359.02" r="2.15"/><circle cx="583.26" cy="357.87" r="2.15"/><circle cx="587.27" cy="356.9" r="2.15"/><circle cx="591.3" cy="356.14" r="2.15"/><circle cx="595.34" cy="355.53" r="2.15"/><circle cx="599.39" cy="354.98" r="2.15"/><circle cx="603.46" cy="354.39" r="2.15"/><circle cx="607.55" cy="354.28" r="2.15"/><circle cx="611.64" cy="354.8" r="2.15"/><circle cx="615.75" cy="355.68" r="2.15"/><circle cx="619.88" cy="356.72" r="2.15"/><circle cx="624.02" cy="357.8" r="2.15"/><circle cx="628.17" cy="358.84" r="2.15"/><circle cx="632.34" cy="359.89" r="2.15"/><circle cx="636.52" cy="361.03" r="2.15"/><circle cx="640.72" cy="362.29" r="2.15"/><circle cx="644.93" cy="363.72" r="2.15"/><circle cx="649.15" cy="365.25" r="2.15"/><circle cx="653.39" cy="366.79" r="2.15"/><circle cx="657.65" cy="368.25" r="2.15"/><circle cx="661.91" cy="369.7" r="2.15"/><circle cx="666.19" cy="371.22" r="2.15"/><circle cx="670.49" cy="373.06" r="2.15"/><circle cx="674.8" cy="375.6" r="2.15"/></g>
<g fill="#fff" stroke="#787d23" stroke-width="1.05"><circle cx="521" cy="392.8" r="2.15"/><circle cx="524.78" cy="391.32" r="2.15"/><circle cx="528.58" cy="389.78" r="2.15"/><circle cx="532.4" cy="388.05" r="2.15"/><circle cx="536.22" cy="385.99" r="2.15"/><circle cx="540.07" cy="383.79" r="2.15"/><circle cx="543.92" cy="381.68" r="2.15"/><circle cx="547.79" cy="379.86" r="2.15"/><circle cx="551.68" cy="378.21" r="2.15"/><circle cx="555.58" cy="376.71" r="2.15"/><circle cx="559.49" cy="375.33" r="2.15"/><circle cx="563.41" cy="374.09" r="2.15"/><circle cx="567.36" cy="372.96" r="2.15"/><circle cx="571.31" cy="371.88" r="2.15"/><circle cx="575.28" cy="370.82" r="2.15"/><circle cx="579.26" cy="369.81" r="2.15"/><circle cx="583.26" cy="368.84" r="2.15"/><circle cx="587.27" cy="367.89" r="2.15"/><circle cx="591.3" cy="366.96" r="2.15"/><circle cx="595.34" cy="366.08" r="2.15"/><circle cx="599.39" cy="365.28" r="2.15"/><circle cx="603.46" cy="364.38" r="2.15"/><circle cx="607.55" cy="363.97" r="2.15"/><circle cx="611.64" cy="364.24" r="2.15"/><circle cx="615.75" cy="364.88" r="2.15"/><circle cx="619.88" cy="365.71" r="2.15"/><circle cx="624.02" cy="366.63" r="2.15"/><circle cx="628.17" cy="367.65" r="2.15"/><circle cx="632.34" cy="368.86" r="2.15"/><circle cx="636.52" cy="370.18" r="2.15"/><circle cx="640.72" cy="371.48" r="2.15"/><circle cx="644.93" cy="372.75" r="2.15"/><circle cx="649.15" cy="374.03" r="2.15"/><circle cx="653.39" cy="375.32" r="2.15"/><circle cx="657.65" cy="376.61" r="2.15"/><circle cx="661.91" cy="377.91" r="2.15"/><circle cx="666.19" cy="379.2" r="2.15"/><circle cx="670.49" cy="380.45" r="2.15"/><circle cx="674.8" cy="381.6" r="2.15"/></g>
<line x1="600.3" y1="340.2" x2="619.6" y2="376.6" stroke="#333" stroke-width="0.9" stroke-dasharray="2.2,1.6"/>
<polyline points="620.3,370.2 620.3,377.4 614.2,373.1" fill="none" stroke="#333" stroke-width="0.95"/>
<text x="622.7" y="305.7" font-size="8.8" text-anchor="start" fill="#000" font-weight="normal"  stroke="#000" stroke-width="0.12">G′</text>
<text x="643.2" y="305.7" font-size="8.8" text-anchor="start" fill="#000" font-weight="normal"  stroke="#000" stroke-width="0.12">G″</text>
<circle cx="625.5" cy="314.5" r="2.6" fill="#2b3088"/>
<circle cx="646.0" cy="314.5" r="2.0" fill="#fff" stroke="#2b3088" stroke-width="0.95"/>
<text x="651.6" y="317.5" font-size="8.8" fill="#222" textLength="15.4" lengthAdjust="spacingAndGlyphs" stroke="#222" stroke-width="0.12">LiCl</text>
<circle cx="625.5" cy="325.7" r="2.6" fill="#ec7a1c"/>
<circle cx="646.0" cy="325.7" r="2.0" fill="#fff" stroke="#ec7a1c" stroke-width="0.95"/>
<text x="651.6" y="328.7" font-size="8.8" fill="#222" textLength="20" lengthAdjust="spacingAndGlyphs" stroke="#222" stroke-width="0.12">NaCl</text>
<circle cx="625.5" cy="337" r="2.6" fill="#787d23"/>
<circle cx="646.0" cy="337" r="2.0" fill="#fff" stroke="#787d23" stroke-width="0.95"/>
<text x="651.6" y="340" font-size="8.8" fill="#222" textLength="14" lengthAdjust="spacingAndGlyphs" stroke="#222" stroke-width="0.12">KCl</text>
</svg>
</body></html>
